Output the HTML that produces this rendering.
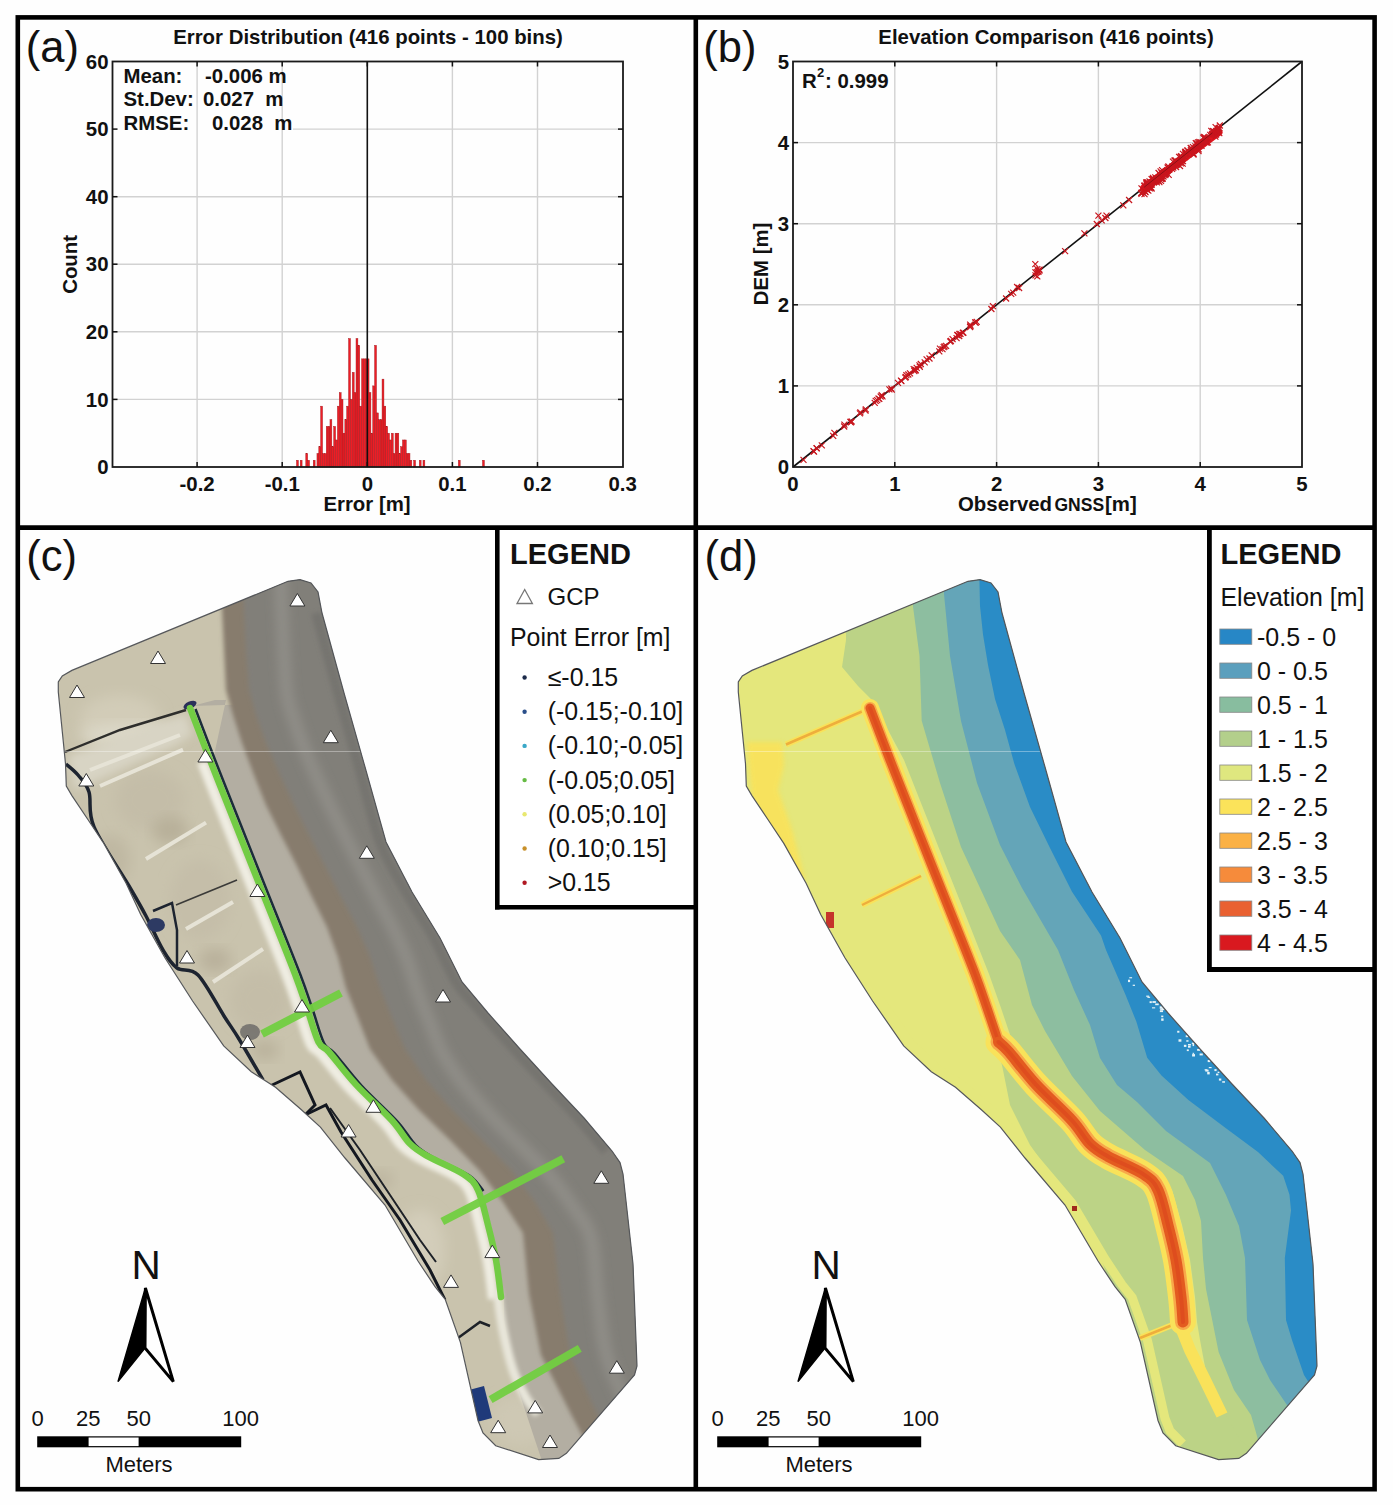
<!DOCTYPE html>
<html><head><meta charset="utf-8"><title>Figure</title>
<style>
html,body{margin:0;padding:0;background:#fff;}
body{width:1393px;height:1505px;overflow:hidden;}
svg{display:block;font-family:"Liberation Sans", sans-serif;}
</style></head>
<body>
<svg width="1393" height="1505" viewBox="0 0 1393 1505">
<rect width="1393" height="1505" fill="#fefefe"/>
<line x1="197.1" y1="61.5" x2="197.1" y2="467.0" stroke="#d2d2d2" stroke-width="1.4"/>
<line x1="282.2" y1="61.5" x2="282.2" y2="467.0" stroke="#d2d2d2" stroke-width="1.4"/>
<line x1="452.4" y1="61.5" x2="452.4" y2="467.0" stroke="#d2d2d2" stroke-width="1.4"/>
<line x1="537.5" y1="61.5" x2="537.5" y2="467.0" stroke="#d2d2d2" stroke-width="1.4"/>
<line x1="112.5" y1="399.4" x2="623.0" y2="399.4" stroke="#d2d2d2" stroke-width="1.4"/>
<line x1="112.5" y1="331.8" x2="623.0" y2="331.8" stroke="#d2d2d2" stroke-width="1.4"/>
<line x1="112.5" y1="264.2" x2="623.0" y2="264.2" stroke="#d2d2d2" stroke-width="1.4"/>
<line x1="112.5" y1="196.7" x2="623.0" y2="196.7" stroke="#d2d2d2" stroke-width="1.4"/>
<line x1="293" y1="129.1" x2="623.0" y2="129.1" stroke="#d2d2d2" stroke-width="1.4"/>
<rect x="296.50" y="460.24" width="1.86" height="6.76" fill="#ee1d25" stroke="#a3181d" stroke-width="0.45"/>
<rect x="300.22" y="460.24" width="1.86" height="6.76" fill="#ee1d25" stroke="#a3181d" stroke-width="0.45"/>
<rect x="305.80" y="453.48" width="1.86" height="13.52" fill="#ee1d25" stroke="#a3181d" stroke-width="0.45"/>
<rect x="307.66" y="460.24" width="1.86" height="6.76" fill="#ee1d25" stroke="#a3181d" stroke-width="0.45"/>
<rect x="313.24" y="460.24" width="1.86" height="6.76" fill="#ee1d25" stroke="#a3181d" stroke-width="0.45"/>
<rect x="316.96" y="453.48" width="1.86" height="13.52" fill="#ee1d25" stroke="#a3181d" stroke-width="0.45"/>
<rect x="318.82" y="446.73" width="1.86" height="20.27" fill="#ee1d25" stroke="#a3181d" stroke-width="0.45"/>
<rect x="320.68" y="406.18" width="1.86" height="60.82" fill="#ee1d25" stroke="#a3181d" stroke-width="0.45"/>
<rect x="322.54" y="453.48" width="1.86" height="13.52" fill="#ee1d25" stroke="#a3181d" stroke-width="0.45"/>
<rect x="324.40" y="453.48" width="1.86" height="13.52" fill="#ee1d25" stroke="#a3181d" stroke-width="0.45"/>
<rect x="326.26" y="426.45" width="1.86" height="40.55" fill="#ee1d25" stroke="#a3181d" stroke-width="0.45"/>
<rect x="328.12" y="426.45" width="1.86" height="40.55" fill="#ee1d25" stroke="#a3181d" stroke-width="0.45"/>
<rect x="329.98" y="419.69" width="1.86" height="47.31" fill="#ee1d25" stroke="#a3181d" stroke-width="0.45"/>
<rect x="331.84" y="446.73" width="1.86" height="20.27" fill="#ee1d25" stroke="#a3181d" stroke-width="0.45"/>
<rect x="333.70" y="426.45" width="1.86" height="40.55" fill="#ee1d25" stroke="#a3181d" stroke-width="0.45"/>
<rect x="335.56" y="439.97" width="1.86" height="27.03" fill="#ee1d25" stroke="#a3181d" stroke-width="0.45"/>
<rect x="337.42" y="406.18" width="1.86" height="60.82" fill="#ee1d25" stroke="#a3181d" stroke-width="0.45"/>
<rect x="339.28" y="392.66" width="1.86" height="74.34" fill="#ee1d25" stroke="#a3181d" stroke-width="0.45"/>
<rect x="341.14" y="399.42" width="1.86" height="67.58" fill="#ee1d25" stroke="#a3181d" stroke-width="0.45"/>
<rect x="343.00" y="433.21" width="1.86" height="33.79" fill="#ee1d25" stroke="#a3181d" stroke-width="0.45"/>
<rect x="344.86" y="419.69" width="1.86" height="47.31" fill="#ee1d25" stroke="#a3181d" stroke-width="0.45"/>
<rect x="346.72" y="406.18" width="1.86" height="60.82" fill="#ee1d25" stroke="#a3181d" stroke-width="0.45"/>
<rect x="348.58" y="338.59" width="1.86" height="128.41" fill="#ee1d25" stroke="#a3181d" stroke-width="0.45"/>
<rect x="350.44" y="399.42" width="1.86" height="67.58" fill="#ee1d25" stroke="#a3181d" stroke-width="0.45"/>
<rect x="352.30" y="372.38" width="1.86" height="94.62" fill="#ee1d25" stroke="#a3181d" stroke-width="0.45"/>
<rect x="354.16" y="392.66" width="1.86" height="74.34" fill="#ee1d25" stroke="#a3181d" stroke-width="0.45"/>
<rect x="356.02" y="338.59" width="1.86" height="128.41" fill="#ee1d25" stroke="#a3181d" stroke-width="0.45"/>
<rect x="357.88" y="345.35" width="1.86" height="121.65" fill="#ee1d25" stroke="#a3181d" stroke-width="0.45"/>
<rect x="359.74" y="406.18" width="1.86" height="60.82" fill="#ee1d25" stroke="#a3181d" stroke-width="0.45"/>
<rect x="361.60" y="358.87" width="1.86" height="108.13" fill="#ee1d25" stroke="#a3181d" stroke-width="0.45"/>
<rect x="363.46" y="358.87" width="1.86" height="108.13" fill="#ee1d25" stroke="#a3181d" stroke-width="0.45"/>
<rect x="365.32" y="358.87" width="1.86" height="108.13" fill="#ee1d25" stroke="#a3181d" stroke-width="0.45"/>
<rect x="367.18" y="358.87" width="1.86" height="108.13" fill="#ee1d25" stroke="#a3181d" stroke-width="0.45"/>
<rect x="369.04" y="392.66" width="1.86" height="74.34" fill="#ee1d25" stroke="#a3181d" stroke-width="0.45"/>
<rect x="370.90" y="433.21" width="1.86" height="33.79" fill="#ee1d25" stroke="#a3181d" stroke-width="0.45"/>
<rect x="372.76" y="385.90" width="1.86" height="81.10" fill="#ee1d25" stroke="#a3181d" stroke-width="0.45"/>
<rect x="374.62" y="345.35" width="1.86" height="121.65" fill="#ee1d25" stroke="#a3181d" stroke-width="0.45"/>
<rect x="376.48" y="412.93" width="1.86" height="54.07" fill="#ee1d25" stroke="#a3181d" stroke-width="0.45"/>
<rect x="378.34" y="419.69" width="1.86" height="47.31" fill="#ee1d25" stroke="#a3181d" stroke-width="0.45"/>
<rect x="380.20" y="419.69" width="1.86" height="47.31" fill="#ee1d25" stroke="#a3181d" stroke-width="0.45"/>
<rect x="382.06" y="379.14" width="1.86" height="87.86" fill="#ee1d25" stroke="#a3181d" stroke-width="0.45"/>
<rect x="383.92" y="406.18" width="1.86" height="60.82" fill="#ee1d25" stroke="#a3181d" stroke-width="0.45"/>
<rect x="385.78" y="426.45" width="1.86" height="40.55" fill="#ee1d25" stroke="#a3181d" stroke-width="0.45"/>
<rect x="387.64" y="433.21" width="1.86" height="33.79" fill="#ee1d25" stroke="#a3181d" stroke-width="0.45"/>
<rect x="389.50" y="439.97" width="1.86" height="27.03" fill="#ee1d25" stroke="#a3181d" stroke-width="0.45"/>
<rect x="391.36" y="433.21" width="1.86" height="33.79" fill="#ee1d25" stroke="#a3181d" stroke-width="0.45"/>
<rect x="393.22" y="453.48" width="1.86" height="13.52" fill="#ee1d25" stroke="#a3181d" stroke-width="0.45"/>
<rect x="395.08" y="433.21" width="1.86" height="33.79" fill="#ee1d25" stroke="#a3181d" stroke-width="0.45"/>
<rect x="396.94" y="433.21" width="1.86" height="33.79" fill="#ee1d25" stroke="#a3181d" stroke-width="0.45"/>
<rect x="398.80" y="453.48" width="1.86" height="13.52" fill="#ee1d25" stroke="#a3181d" stroke-width="0.45"/>
<rect x="400.66" y="446.73" width="1.86" height="20.27" fill="#ee1d25" stroke="#a3181d" stroke-width="0.45"/>
<rect x="402.52" y="439.97" width="1.86" height="27.03" fill="#ee1d25" stroke="#a3181d" stroke-width="0.45"/>
<rect x="404.38" y="439.97" width="1.86" height="27.03" fill="#ee1d25" stroke="#a3181d" stroke-width="0.45"/>
<rect x="406.24" y="453.48" width="1.86" height="13.52" fill="#ee1d25" stroke="#a3181d" stroke-width="0.45"/>
<rect x="408.10" y="453.48" width="1.86" height="13.52" fill="#ee1d25" stroke="#a3181d" stroke-width="0.45"/>
<rect x="409.96" y="460.24" width="1.86" height="6.76" fill="#ee1d25" stroke="#a3181d" stroke-width="0.45"/>
<rect x="413.68" y="460.24" width="1.86" height="6.76" fill="#ee1d25" stroke="#a3181d" stroke-width="0.45"/>
<rect x="419.26" y="460.24" width="1.86" height="6.76" fill="#ee1d25" stroke="#a3181d" stroke-width="0.45"/>
<rect x="422.98" y="460.24" width="1.86" height="6.76" fill="#ee1d25" stroke="#a3181d" stroke-width="0.45"/>
<rect x="458.32" y="460.24" width="1.86" height="6.76" fill="#ee1d25" stroke="#a3181d" stroke-width="0.45"/>
<rect x="482.50" y="460.24" width="1.86" height="6.76" fill="#ee1d25" stroke="#a3181d" stroke-width="0.45"/>
<line x1="367.3" y1="61.5" x2="367.3" y2="467.0" stroke="#111" stroke-width="1.6"/>
<rect x="112.5" y="61.5" width="510.5" height="405.5" fill="none" stroke="#1a1a1a" stroke-width="1.8"/>
<line x1="197.1" y1="467.0" x2="197.1" y2="462.0" stroke="#111" stroke-width="1.5"/>
<line x1="197.1" y1="61.5" x2="197.1" y2="66.5" stroke="#111" stroke-width="1.5"/>
<line x1="282.2" y1="467.0" x2="282.2" y2="462.0" stroke="#111" stroke-width="1.5"/>
<line x1="282.2" y1="61.5" x2="282.2" y2="66.5" stroke="#111" stroke-width="1.5"/>
<line x1="367.3" y1="467.0" x2="367.3" y2="462.0" stroke="#111" stroke-width="1.5"/>
<line x1="367.3" y1="61.5" x2="367.3" y2="66.5" stroke="#111" stroke-width="1.5"/>
<line x1="452.4" y1="467.0" x2="452.4" y2="462.0" stroke="#111" stroke-width="1.5"/>
<line x1="452.4" y1="61.5" x2="452.4" y2="66.5" stroke="#111" stroke-width="1.5"/>
<line x1="537.5" y1="467.0" x2="537.5" y2="462.0" stroke="#111" stroke-width="1.5"/>
<line x1="537.5" y1="61.5" x2="537.5" y2="66.5" stroke="#111" stroke-width="1.5"/>
<line x1="112.5" y1="399.4" x2="117.5" y2="399.4" stroke="#111" stroke-width="1.5"/>
<line x1="623.0" y1="399.4" x2="618.0" y2="399.4" stroke="#111" stroke-width="1.5"/>
<line x1="112.5" y1="331.8" x2="117.5" y2="331.8" stroke="#111" stroke-width="1.5"/>
<line x1="623.0" y1="331.8" x2="618.0" y2="331.8" stroke="#111" stroke-width="1.5"/>
<line x1="112.5" y1="264.2" x2="117.5" y2="264.2" stroke="#111" stroke-width="1.5"/>
<line x1="623.0" y1="264.2" x2="618.0" y2="264.2" stroke="#111" stroke-width="1.5"/>
<line x1="112.5" y1="196.7" x2="117.5" y2="196.7" stroke="#111" stroke-width="1.5"/>
<line x1="623.0" y1="196.7" x2="618.0" y2="196.7" stroke="#111" stroke-width="1.5"/>
<line x1="112.5" y1="129.1" x2="117.5" y2="129.1" stroke="#111" stroke-width="1.5"/>
<line x1="623.0" y1="129.1" x2="618.0" y2="129.1" stroke="#111" stroke-width="1.5"/>
<text x="108.5" y="474.2" font-size="20.4" font-weight="bold" text-anchor="end" fill="#111" >0</text>
<text x="108.5" y="406.6166666666667" font-size="20.4" font-weight="bold" text-anchor="end" fill="#111" >10</text>
<text x="108.5" y="339.03333333333336" font-size="20.4" font-weight="bold" text-anchor="end" fill="#111" >20</text>
<text x="108.5" y="271.45" font-size="20.4" font-weight="bold" text-anchor="end" fill="#111" >30</text>
<text x="108.5" y="203.86666666666667" font-size="20.4" font-weight="bold" text-anchor="end" fill="#111" >40</text>
<text x="108.5" y="136.2833333333333" font-size="20.4" font-weight="bold" text-anchor="end" fill="#111" >50</text>
<text x="108.5" y="68.7" font-size="20.4" font-weight="bold" text-anchor="end" fill="#111" >60</text>
<text x="197.1" y="490.5" font-size="20.4" font-weight="bold" text-anchor="middle" fill="#111" >-0.2</text>
<text x="282.2" y="490.5" font-size="20.4" font-weight="bold" text-anchor="middle" fill="#111" >-0.1</text>
<text x="367.3" y="490.5" font-size="20.4" font-weight="bold" text-anchor="middle" fill="#111" >0</text>
<text x="452.4" y="490.5" font-size="20.4" font-weight="bold" text-anchor="middle" fill="#111" >0.1</text>
<text x="537.5" y="490.5" font-size="20.4" font-weight="bold" text-anchor="middle" fill="#111" >0.2</text>
<text x="622.6" y="490.5" font-size="20.4" font-weight="bold" text-anchor="middle" fill="#111" >0.3</text>
<text x="367" y="511" font-size="20.4" font-weight="bold" text-anchor="middle" fill="#111" >Error [m]</text>
<text x="0" y="0" font-size="20.4" font-weight="bold" text-anchor="middle" fill="#111" transform="translate(76.8,264.4) rotate(-90)">Count</text>
<text x="368" y="44" font-size="20.4" font-weight="bold" text-anchor="middle" fill="#111" >Error Distribution (416 points - 100 bins)</text>
<text x="123.5" y="82.5" font-size="20.4" font-weight="bold" text-anchor="start" fill="#111" >Mean:</text>
<text x="205" y="82.5" font-size="20.4" font-weight="bold" text-anchor="start" fill="#111" >-0.006 m</text>
<text x="123.5" y="106" font-size="20.4" font-weight="bold" text-anchor="start" fill="#111" >St.Dev:</text>
<text x="203" y="106" font-size="20.4" font-weight="bold" text-anchor="start" fill="#111" xml:space="preserve">0.027  m</text>
<text x="123.5" y="130" font-size="20.4" font-weight="bold" text-anchor="start" fill="#111" >RMSE:</text>
<text x="212" y="130" font-size="20.4" font-weight="bold" text-anchor="start" fill="#111" xml:space="preserve">0.028  m</text>
<text x="25.8" y="62" font-size="43.5" font-weight="normal" text-anchor="start" fill="#111" >(a)</text>
<line x1="894.8" y1="61.5" x2="894.8" y2="467.0" stroke="#d2d2d2" stroke-width="1.4"/>
<line x1="793.0" y1="385.9" x2="1302.0" y2="385.9" stroke="#d2d2d2" stroke-width="1.4"/>
<line x1="996.6" y1="61.5" x2="996.6" y2="467.0" stroke="#d2d2d2" stroke-width="1.4"/>
<line x1="793.0" y1="304.8" x2="1302.0" y2="304.8" stroke="#d2d2d2" stroke-width="1.4"/>
<line x1="1098.4" y1="61.5" x2="1098.4" y2="467.0" stroke="#d2d2d2" stroke-width="1.4"/>
<line x1="793.0" y1="223.7" x2="1302.0" y2="223.7" stroke="#d2d2d2" stroke-width="1.4"/>
<line x1="1200.2" y1="61.5" x2="1200.2" y2="467.0" stroke="#d2d2d2" stroke-width="1.4"/>
<line x1="793.0" y1="142.6" x2="1302.0" y2="142.6" stroke="#d2d2d2" stroke-width="1.4"/>
<line x1="793.0" y1="467.0" x2="1302.0" y2="61.5" stroke="#111" stroke-width="1.6"/>
<line x1="1144.2" y1="188.0" x2="1218.5" y2="132.1" stroke="#e0141c" stroke-width="8" stroke-linecap="round"/>
<path d="M800.5 456.8L806.5 462.8M800.5 462.8L806.5 456.8" stroke="#c8161e" stroke-width="1.2"/>
<path d="M811.0 448.7L817.0 454.7M811.0 454.7L817.0 448.7" stroke="#c8161e" stroke-width="1.2"/>
<path d="M810.5 448.1L816.5 454.1M810.5 454.1L816.5 448.1" stroke="#c8161e" stroke-width="1.2"/>
<path d="M813.7 445.1L819.7 451.1M813.7 451.1L819.7 445.1" stroke="#c8161e" stroke-width="1.2"/>
<path d="M813.6 445.4L819.6 451.4M813.6 451.4L819.6 445.4" stroke="#c8161e" stroke-width="1.2"/>
<path d="M818.8 442.4L824.8 448.4M818.8 448.4L824.8 442.4" stroke="#c8161e" stroke-width="1.2"/>
<path d="M831.4 429.9L837.4 435.9M831.4 435.9L837.4 429.9" stroke="#c8161e" stroke-width="1.2"/>
<path d="M830.2 432.9L836.2 438.9M830.2 438.9L836.2 432.9" stroke="#c8161e" stroke-width="1.2"/>
<path d="M841.4 421.6L847.4 427.6M841.4 427.6L847.4 421.6" stroke="#c8161e" stroke-width="1.2"/>
<path d="M841.2 423.5L847.2 429.5M841.2 429.5L847.2 423.5" stroke="#c8161e" stroke-width="1.2"/>
<path d="M847.9 419.3L853.9 425.3M847.9 425.3L853.9 419.3" stroke="#c8161e" stroke-width="1.2"/>
<path d="M847.4 418.9L853.4 424.9M847.4 424.9L853.4 418.9" stroke="#c8161e" stroke-width="1.2"/>
<path d="M848.6 418.5L854.6 424.5M848.6 424.5L854.6 418.5" stroke="#c8161e" stroke-width="1.2"/>
<path d="M857.4 409.3L863.4 415.3M857.4 415.3L863.4 409.3" stroke="#c8161e" stroke-width="1.2"/>
<path d="M856.9 410.4L862.9 416.4M856.9 416.4L862.9 410.4" stroke="#c8161e" stroke-width="1.2"/>
<path d="M862.8 406.4L868.8 412.4M862.8 412.4L868.8 406.4" stroke="#c8161e" stroke-width="1.2"/>
<path d="M862.5 407.7L868.5 413.7M862.5 413.7L868.5 407.7" stroke="#c8161e" stroke-width="1.2"/>
<path d="M871.7 399.9L877.7 405.9M871.7 405.9L877.7 399.9" stroke="#c8161e" stroke-width="1.2"/>
<path d="M874.2 397.1L880.2 403.1M874.2 403.1L880.2 397.1" stroke="#c8161e" stroke-width="1.2"/>
<path d="M872.7 397.8L878.7 403.8M872.7 403.8L878.7 397.8" stroke="#c8161e" stroke-width="1.2"/>
<path d="M876.3 395.9L882.3 401.9M876.3 401.9L882.3 395.9" stroke="#c8161e" stroke-width="1.2"/>
<path d="M877.7 393.5L883.7 399.5M877.7 399.5L883.7 393.5" stroke="#c8161e" stroke-width="1.2"/>
<path d="M875.5 395.7L881.5 401.7M875.5 401.7L881.5 395.7" stroke="#c8161e" stroke-width="1.2"/>
<path d="M878.7 392.1L884.7 398.1M878.7 398.1L884.7 392.1" stroke="#c8161e" stroke-width="1.2"/>
<path d="M879.5 393.4L885.5 399.4M879.5 399.4L885.5 393.4" stroke="#c8161e" stroke-width="1.2"/>
<path d="M888.7 386.6L894.7 392.6M888.7 392.6L894.7 386.6" stroke="#c8161e" stroke-width="1.2"/>
<path d="M886.4 386.4L892.4 392.4M886.4 392.4L892.4 386.4" stroke="#c8161e" stroke-width="1.2"/>
<path d="M888.3 385.7L894.3 391.7M888.3 391.7L894.3 385.7" stroke="#c8161e" stroke-width="1.2"/>
<path d="M895.0 379.8L901.0 385.8M895.0 385.8L901.0 379.8" stroke="#c8161e" stroke-width="1.2"/>
<path d="M898.0 377.7L904.0 383.7M898.0 383.7L904.0 377.7" stroke="#c8161e" stroke-width="1.2"/>
<path d="M898.4 378.2L904.4 384.2M898.4 384.2L904.4 378.2" stroke="#c8161e" stroke-width="1.2"/>
<path d="M902.8 373.9L908.8 379.9M902.8 379.9L908.8 373.9" stroke="#c8161e" stroke-width="1.2"/>
<path d="M902.3 374.7L908.3 380.7M902.3 380.7L908.3 374.7" stroke="#c8161e" stroke-width="1.2"/>
<path d="M903.4 372.2L909.4 378.2M903.4 378.2L909.4 372.2" stroke="#c8161e" stroke-width="1.2"/>
<path d="M907.0 370.3L913.0 376.3M907.0 376.3L913.0 370.3" stroke="#c8161e" stroke-width="1.2"/>
<path d="M905.3 371.5L911.3 377.5M905.3 377.5L911.3 371.5" stroke="#c8161e" stroke-width="1.2"/>
<path d="M910.7 366.2L916.7 372.2M910.7 372.2L916.7 366.2" stroke="#c8161e" stroke-width="1.2"/>
<path d="M911.4 368.0L917.4 374.0M911.4 374.0L917.4 368.0" stroke="#c8161e" stroke-width="1.2"/>
<path d="M913.7 364.9L919.7 370.9M913.7 370.9L919.7 364.9" stroke="#c8161e" stroke-width="1.2"/>
<path d="M912.3 366.7L918.3 372.7M912.3 372.7L918.3 366.7" stroke="#c8161e" stroke-width="1.2"/>
<path d="M912.8 367.4L918.8 373.4M912.8 373.4L918.8 367.4" stroke="#c8161e" stroke-width="1.2"/>
<path d="M916.5 362.4L922.5 368.4M916.5 368.4L922.5 362.4" stroke="#c8161e" stroke-width="1.2"/>
<path d="M916.8 363.8L922.8 369.8M916.8 369.8L922.8 363.8" stroke="#c8161e" stroke-width="1.2"/>
<path d="M917.8 361.0L923.8 367.0M917.8 367.0L923.8 361.0" stroke="#c8161e" stroke-width="1.2"/>
<path d="M921.7 359.3L927.7 365.3M921.7 365.3L927.7 359.3" stroke="#c8161e" stroke-width="1.2"/>
<path d="M923.6 356.4L929.6 362.4M923.6 362.4L929.6 356.4" stroke="#c8161e" stroke-width="1.2"/>
<path d="M928.7 352.3L934.7 358.3M928.7 358.3L934.7 352.3" stroke="#c8161e" stroke-width="1.2"/>
<path d="M926.5 355.5L932.5 361.5M926.5 361.5L932.5 355.5" stroke="#c8161e" stroke-width="1.2"/>
<path d="M937.0 345.6L943.0 351.6M937.0 351.6L943.0 345.6" stroke="#c8161e" stroke-width="1.2"/>
<path d="M939.5 346.1L945.5 352.1M939.5 352.1L945.5 346.1" stroke="#c8161e" stroke-width="1.2"/>
<path d="M936.3 348.3L942.3 354.3M936.3 354.3L942.3 348.3" stroke="#c8161e" stroke-width="1.2"/>
<path d="M941.6 343.3L947.6 349.3M941.6 349.3L947.6 343.3" stroke="#c8161e" stroke-width="1.2"/>
<path d="M943.1 342.8L949.1 348.8M943.1 348.8L949.1 342.8" stroke="#c8161e" stroke-width="1.2"/>
<path d="M940.7 344.2L946.7 350.2M940.7 350.2L946.7 344.2" stroke="#c8161e" stroke-width="1.2"/>
<path d="M947.3 338.5L953.3 344.5M947.3 344.5L953.3 338.5" stroke="#c8161e" stroke-width="1.2"/>
<path d="M949.6 336.2L955.6 342.2M949.6 342.2L955.6 336.2" stroke="#c8161e" stroke-width="1.2"/>
<path d="M947.9 337.9L953.9 343.9M947.9 343.9L953.9 337.9" stroke="#c8161e" stroke-width="1.2"/>
<path d="M953.6 335.1L959.6 341.1M953.6 341.1L959.6 335.1" stroke="#c8161e" stroke-width="1.2"/>
<path d="M954.5 332.0L960.5 338.0M954.5 338.0L960.5 332.0" stroke="#c8161e" stroke-width="1.2"/>
<path d="M954.4 332.1L960.4 338.1M954.4 338.1L960.4 332.1" stroke="#c8161e" stroke-width="1.2"/>
<path d="M957.5 330.9L963.5 336.9M957.5 336.9L963.5 330.9" stroke="#c8161e" stroke-width="1.2"/>
<path d="M956.4 331.0L962.4 337.0M956.4 337.0L962.4 331.0" stroke="#c8161e" stroke-width="1.2"/>
<path d="M956.2 333.0L962.2 339.0M956.2 339.0L962.2 333.0" stroke="#c8161e" stroke-width="1.2"/>
<path d="M959.8 329.8L965.8 335.8M959.8 335.8L965.8 329.8" stroke="#c8161e" stroke-width="1.2"/>
<path d="M960.4 329.7L966.4 335.7M960.4 335.7L966.4 329.7" stroke="#c8161e" stroke-width="1.2"/>
<path d="M967.1 324.0L973.1 330.0M967.1 330.0L973.1 324.0" stroke="#c8161e" stroke-width="1.2"/>
<path d="M967.5 323.0L973.5 329.0M967.5 329.0L973.5 323.0" stroke="#c8161e" stroke-width="1.2"/>
<path d="M967.2 321.6L973.2 327.6M967.2 327.6L973.2 321.6" stroke="#c8161e" stroke-width="1.2"/>
<path d="M973.7 318.8L979.7 324.8M973.7 324.8L979.7 318.8" stroke="#c8161e" stroke-width="1.2"/>
<path d="M972.2 319.3L978.2 325.3M972.2 325.3L978.2 319.3" stroke="#c8161e" stroke-width="1.2"/>
<path d="M972.7 319.7L978.7 325.7M972.7 325.7L978.7 319.7" stroke="#c8161e" stroke-width="1.2"/>
<path d="M989.9 303.1L995.9 309.1M989.9 309.1L995.9 303.1" stroke="#c8161e" stroke-width="1.2"/>
<path d="M988.4 306.0L994.4 312.0M988.4 312.0L994.4 306.0" stroke="#c8161e" stroke-width="1.2"/>
<path d="M1003.1 295.5L1009.1 301.5M1003.1 301.5L1009.1 295.5" stroke="#c8161e" stroke-width="1.2"/>
<path d="M1008.2 290.9L1014.2 296.9M1008.2 296.9L1014.2 290.9" stroke="#c8161e" stroke-width="1.2"/>
<path d="M1010.2 289.7L1016.2 295.7M1010.2 295.7L1016.2 289.7" stroke="#c8161e" stroke-width="1.2"/>
<path d="M1014.1 284.0L1020.1 290.0M1014.1 290.0L1020.1 284.0" stroke="#c8161e" stroke-width="1.2"/>
<path d="M1016.1 285.0L1022.1 291.0M1016.1 291.0L1022.1 285.0" stroke="#c8161e" stroke-width="1.2"/>
<path d="M1032.5 272.4L1038.5 278.4M1032.5 278.4L1038.5 272.4" stroke="#c8161e" stroke-width="1.2"/>
<path d="M1032.4 269.3L1038.4 275.3M1032.4 275.3L1038.4 269.3" stroke="#c8161e" stroke-width="1.2"/>
<path d="M1033.8 269.2L1039.8 275.2M1033.8 275.2L1039.8 269.2" stroke="#c8161e" stroke-width="1.2"/>
<path d="M1035.4 268.9L1041.4 274.9M1035.4 274.9L1041.4 268.9" stroke="#c8161e" stroke-width="1.2"/>
<path d="M1035.0 267.9L1041.0 273.9M1035.0 273.9L1041.0 267.9" stroke="#c8161e" stroke-width="1.2"/>
<path d="M1036.5 266.7L1042.5 272.7M1036.5 272.7L1042.5 266.7" stroke="#c8161e" stroke-width="1.2"/>
<path d="M1062.1 248.1L1068.1 254.1M1062.1 254.1L1068.1 248.1" stroke="#c8161e" stroke-width="1.2"/>
<path d="M1081.4 230.3L1087.4 236.3M1081.4 236.3L1087.4 230.3" stroke="#c8161e" stroke-width="1.2"/>
<path d="M1093.8 221.0L1099.8 227.0M1093.8 227.0L1099.8 221.0" stroke="#c8161e" stroke-width="1.2"/>
<path d="M1098.7 217.3L1104.7 223.3M1098.7 223.3L1104.7 217.3" stroke="#c8161e" stroke-width="1.2"/>
<path d="M1102.4 215.0L1108.4 221.0M1102.4 221.0L1108.4 215.0" stroke="#c8161e" stroke-width="1.2"/>
<path d="M1120.3 202.4L1126.3 208.4M1120.3 208.4L1126.3 202.4" stroke="#c8161e" stroke-width="1.2"/>
<path d="M1126.1 197.0L1132.1 203.0M1126.1 203.0L1132.1 197.0" stroke="#c8161e" stroke-width="1.2"/>
<path d="M1032.3 261.2L1038.3 267.2M1032.3 267.2L1038.3 261.2" stroke="#c8161e" stroke-width="1.2"/>
<path d="M1034.3 273.4L1040.3 279.4M1034.3 279.4L1040.3 273.4" stroke="#c8161e" stroke-width="1.2"/>
<path d="M1095.4 212.6L1101.4 218.6M1095.4 218.6L1101.4 212.6" stroke="#c8161e" stroke-width="1.2"/>
<path d="M1103.5 212.6L1109.5 218.6M1103.5 218.6L1109.5 212.6" stroke="#c8161e" stroke-width="1.2"/>
<path d="M1036.4 267.7L1042.4 273.7M1036.4 273.7L1042.4 267.7" stroke="#c8161e" stroke-width="1.2"/>
<path d="M1034.3 266.1L1040.3 272.1M1034.3 272.1L1040.3 266.1" stroke="#c8161e" stroke-width="1.2"/>
<path d="M1158.7 170.2L1164.7 176.2M1158.7 176.2L1164.7 170.2" stroke="#c8161e" stroke-width="1.2"/>
<path d="M1214.1 128.7L1220.1 134.7M1214.1 134.7L1220.1 128.7" stroke="#c8161e" stroke-width="1.2"/>
<path d="M1212.6 124.2L1218.6 130.2M1212.6 130.2L1218.6 124.2" stroke="#c8161e" stroke-width="1.2"/>
<path d="M1214.0 129.7L1220.0 135.7M1214.0 135.7L1220.0 129.7" stroke="#c8161e" stroke-width="1.2"/>
<path d="M1155.7 177.6L1161.7 183.6M1155.7 183.6L1161.7 177.6" stroke="#c8161e" stroke-width="1.2"/>
<path d="M1153.8 179.3L1159.8 185.3M1153.8 185.3L1159.8 179.3" stroke="#c8161e" stroke-width="1.2"/>
<path d="M1187.7 145.0L1193.7 151.0M1187.7 151.0L1193.7 145.0" stroke="#c8161e" stroke-width="1.2"/>
<path d="M1204.9 135.7L1210.9 141.7M1204.9 141.7L1210.9 135.7" stroke="#c8161e" stroke-width="1.2"/>
<path d="M1190.0 144.2L1196.0 150.2M1190.0 150.2L1196.0 144.2" stroke="#c8161e" stroke-width="1.2"/>
<path d="M1144.9 181.6L1150.9 187.6M1144.9 187.6L1150.9 181.6" stroke="#c8161e" stroke-width="1.2"/>
<path d="M1210.4 128.1L1216.4 134.1M1210.4 134.1L1216.4 128.1" stroke="#c8161e" stroke-width="1.2"/>
<path d="M1197.7 141.4L1203.7 147.4M1197.7 147.4L1203.7 141.4" stroke="#c8161e" stroke-width="1.2"/>
<path d="M1152.3 174.3L1158.3 180.3M1152.3 180.3L1158.3 174.3" stroke="#c8161e" stroke-width="1.2"/>
<path d="M1164.6 164.5L1170.6 170.5M1164.6 170.5L1170.6 164.5" stroke="#c8161e" stroke-width="1.2"/>
<path d="M1215.3 128.3L1221.3 134.3M1215.3 134.3L1221.3 128.3" stroke="#c8161e" stroke-width="1.2"/>
<path d="M1170.0 158.6L1176.0 164.6M1170.0 164.6L1176.0 158.6" stroke="#c8161e" stroke-width="1.2"/>
<path d="M1195.7 146.3L1201.7 152.3M1195.7 152.3L1201.7 146.3" stroke="#c8161e" stroke-width="1.2"/>
<path d="M1148.2 184.3L1154.2 190.3M1148.2 190.3L1154.2 184.3" stroke="#c8161e" stroke-width="1.2"/>
<path d="M1210.0 128.2L1216.0 134.2M1210.0 134.2L1216.0 128.2" stroke="#c8161e" stroke-width="1.2"/>
<path d="M1149.8 176.0L1155.8 182.0M1149.8 182.0L1155.8 176.0" stroke="#c8161e" stroke-width="1.2"/>
<path d="M1216.0 125.0L1222.0 131.0M1216.0 131.0L1222.0 125.0" stroke="#c8161e" stroke-width="1.2"/>
<path d="M1166.0 166.0L1172.0 172.0M1166.0 172.0L1172.0 166.0" stroke="#c8161e" stroke-width="1.2"/>
<path d="M1148.6 185.5L1154.6 191.5M1148.6 191.5L1154.6 185.5" stroke="#c8161e" stroke-width="1.2"/>
<path d="M1215.2 125.7L1221.2 131.7M1215.2 131.7L1221.2 125.7" stroke="#c8161e" stroke-width="1.2"/>
<path d="M1180.0 150.8L1186.0 156.8M1180.0 156.8L1186.0 150.8" stroke="#c8161e" stroke-width="1.2"/>
<path d="M1172.6 157.3L1178.6 163.3M1172.6 163.3L1178.6 157.3" stroke="#c8161e" stroke-width="1.2"/>
<path d="M1203.8 139.5L1209.8 145.5M1203.8 145.5L1209.8 139.5" stroke="#c8161e" stroke-width="1.2"/>
<path d="M1158.2 174.9L1164.2 180.9M1158.2 180.9L1164.2 174.9" stroke="#c8161e" stroke-width="1.2"/>
<path d="M1157.3 172.5L1163.3 178.5M1157.3 178.5L1163.3 172.5" stroke="#c8161e" stroke-width="1.2"/>
<path d="M1158.8 173.1L1164.8 179.1M1158.8 179.1L1164.8 173.1" stroke="#c8161e" stroke-width="1.2"/>
<path d="M1148.6 176.1L1154.6 182.1M1148.6 182.1L1154.6 176.1" stroke="#c8161e" stroke-width="1.2"/>
<path d="M1166.2 166.7L1172.2 172.7M1166.2 172.7L1172.2 166.7" stroke="#c8161e" stroke-width="1.2"/>
<path d="M1184.5 147.5L1190.5 153.5M1184.5 153.5L1190.5 147.5" stroke="#c8161e" stroke-width="1.2"/>
<path d="M1171.6 157.7L1177.6 163.7M1171.6 163.7L1177.6 157.7" stroke="#c8161e" stroke-width="1.2"/>
<path d="M1178.0 156.6L1184.0 162.6M1178.0 162.6L1184.0 156.6" stroke="#c8161e" stroke-width="1.2"/>
<path d="M1179.7 160.6L1185.7 166.6M1179.7 166.6L1185.7 160.6" stroke="#c8161e" stroke-width="1.2"/>
<path d="M1173.1 164.2L1179.1 170.2M1173.1 170.2L1179.1 164.2" stroke="#c8161e" stroke-width="1.2"/>
<path d="M1138.5 185.3L1144.5 191.3M1138.5 191.3L1144.5 185.3" stroke="#c8161e" stroke-width="1.2"/>
<path d="M1151.8 178.0L1157.8 184.0M1151.8 184.0L1157.8 178.0" stroke="#c8161e" stroke-width="1.2"/>
<path d="M1195.7 142.2L1201.7 148.2M1195.7 148.2L1201.7 142.2" stroke="#c8161e" stroke-width="1.2"/>
<path d="M1164.0 167.9L1170.0 173.9M1164.0 173.9L1170.0 167.9" stroke="#c8161e" stroke-width="1.2"/>
<path d="M1182.3 150.5L1188.3 156.5M1182.3 156.5L1188.3 150.5" stroke="#c8161e" stroke-width="1.2"/>
<path d="M1146.6 181.3L1152.6 187.3M1146.6 187.3L1152.6 181.3" stroke="#c8161e" stroke-width="1.2"/>
<path d="M1157.9 175.3L1163.9 181.3M1157.9 181.3L1163.9 175.3" stroke="#c8161e" stroke-width="1.2"/>
<path d="M1199.5 139.7L1205.5 145.7M1199.5 145.7L1205.5 139.7" stroke="#c8161e" stroke-width="1.2"/>
<path d="M1182.8 150.4L1188.8 156.4M1182.8 156.4L1188.8 150.4" stroke="#c8161e" stroke-width="1.2"/>
<path d="M1210.6 131.5L1216.6 137.5M1210.6 137.5L1216.6 131.5" stroke="#c8161e" stroke-width="1.2"/>
<path d="M1186.8 149.9L1192.8 155.9M1186.8 155.9L1192.8 149.9" stroke="#c8161e" stroke-width="1.2"/>
<path d="M1178.8 154.2L1184.8 160.2M1178.8 160.2L1184.8 154.2" stroke="#c8161e" stroke-width="1.2"/>
<path d="M1174.1 159.7L1180.1 165.7M1174.1 165.7L1180.1 159.7" stroke="#c8161e" stroke-width="1.2"/>
<path d="M1176.1 153.8L1182.1 159.8M1176.1 159.8L1182.1 153.8" stroke="#c8161e" stroke-width="1.2"/>
<path d="M1193.7 140.5L1199.7 146.5M1193.7 146.5L1199.7 140.5" stroke="#c8161e" stroke-width="1.2"/>
<path d="M1213.0 131.6L1219.0 137.6M1213.0 137.6L1219.0 131.6" stroke="#c8161e" stroke-width="1.2"/>
<path d="M1182.6 148.6L1188.6 154.6M1182.6 154.6L1188.6 148.6" stroke="#c8161e" stroke-width="1.2"/>
<path d="M1204.9 139.4L1210.9 145.4M1204.9 145.4L1210.9 139.4" stroke="#c8161e" stroke-width="1.2"/>
<path d="M1147.8 181.6L1153.8 187.6M1147.8 187.6L1153.8 181.6" stroke="#c8161e" stroke-width="1.2"/>
<path d="M1143.9 186.8L1149.9 192.8M1143.9 192.8L1149.9 186.8" stroke="#c8161e" stroke-width="1.2"/>
<path d="M1144.0 182.3L1150.0 188.3M1144.0 188.3L1150.0 182.3" stroke="#c8161e" stroke-width="1.2"/>
<path d="M1200.4 134.9L1206.4 140.9M1200.4 140.9L1206.4 134.9" stroke="#c8161e" stroke-width="1.2"/>
<path d="M1150.4 176.6L1156.4 182.6M1150.4 182.6L1156.4 176.6" stroke="#c8161e" stroke-width="1.2"/>
<path d="M1190.6 150.7L1196.6 156.7M1190.6 156.7L1196.6 150.7" stroke="#c8161e" stroke-width="1.2"/>
<path d="M1208.3 127.9L1214.3 133.9M1208.3 133.9L1214.3 127.9" stroke="#c8161e" stroke-width="1.2"/>
<path d="M1155.6 170.0L1161.6 176.0M1155.6 176.0L1161.6 170.0" stroke="#c8161e" stroke-width="1.2"/>
<path d="M1169.8 163.6L1175.8 169.6M1169.8 169.6L1175.8 163.6" stroke="#c8161e" stroke-width="1.2"/>
<path d="M1216.8 122.5L1222.8 128.5M1216.8 128.5L1222.8 122.5" stroke="#c8161e" stroke-width="1.2"/>
<path d="M1151.0 179.2L1157.0 185.2M1151.0 185.2L1157.0 179.2" stroke="#c8161e" stroke-width="1.2"/>
<path d="M1179.1 157.7L1185.1 163.7M1179.1 163.7L1185.1 157.7" stroke="#c8161e" stroke-width="1.2"/>
<path d="M1153.7 178.2L1159.7 184.2M1153.7 184.2L1159.7 178.2" stroke="#c8161e" stroke-width="1.2"/>
<path d="M1195.5 148.0L1201.5 154.0M1195.5 154.0L1201.5 148.0" stroke="#c8161e" stroke-width="1.2"/>
<path d="M1182.1 154.2L1188.1 160.2M1182.1 160.2L1188.1 154.2" stroke="#c8161e" stroke-width="1.2"/>
<path d="M1139.6 189.3L1145.6 195.3M1139.6 195.3L1145.6 189.3" stroke="#c8161e" stroke-width="1.2"/>
<path d="M1187.7 149.1L1193.7 155.1M1187.7 155.1L1193.7 149.1" stroke="#c8161e" stroke-width="1.2"/>
<path d="M1143.3 179.5L1149.3 185.5M1143.3 185.5L1149.3 179.5" stroke="#c8161e" stroke-width="1.2"/>
<path d="M1200.8 133.8L1206.8 139.8M1200.8 139.8L1206.8 133.8" stroke="#c8161e" stroke-width="1.2"/>
<path d="M1146.5 184.5L1152.5 190.5M1146.5 190.5L1152.5 184.5" stroke="#c8161e" stroke-width="1.2"/>
<path d="M1141.3 183.2L1147.3 189.2M1141.3 189.2L1147.3 183.2" stroke="#c8161e" stroke-width="1.2"/>
<path d="M1159.6 175.5L1165.6 181.5M1159.6 181.5L1165.6 175.5" stroke="#c8161e" stroke-width="1.2"/>
<path d="M1171.7 157.6L1177.7 163.6M1171.7 163.6L1177.7 157.6" stroke="#c8161e" stroke-width="1.2"/>
<path d="M1203.2 139.4L1209.2 145.4M1203.2 145.4L1209.2 139.4" stroke="#c8161e" stroke-width="1.2"/>
<path d="M1150.0 174.8L1156.0 180.8M1150.0 180.8L1156.0 174.8" stroke="#c8161e" stroke-width="1.2"/>
<path d="M1183.5 150.5L1189.5 156.5M1183.5 156.5L1189.5 150.5" stroke="#c8161e" stroke-width="1.2"/>
<path d="M1145.3 187.7L1151.3 193.7M1145.3 193.7L1151.3 187.7" stroke="#c8161e" stroke-width="1.2"/>
<path d="M1192.8 145.9L1198.8 151.9M1192.8 151.9L1198.8 145.9" stroke="#c8161e" stroke-width="1.2"/>
<path d="M1143.9 179.5L1149.9 185.5M1143.9 185.5L1149.9 179.5" stroke="#c8161e" stroke-width="1.2"/>
<path d="M1188.5 145.4L1194.5 151.4M1188.5 151.4L1194.5 145.4" stroke="#c8161e" stroke-width="1.2"/>
<path d="M1144.8 179.6L1150.8 185.6M1144.8 185.6L1150.8 179.6" stroke="#c8161e" stroke-width="1.2"/>
<path d="M1143.4 180.6L1149.4 186.6M1143.4 186.6L1149.4 180.6" stroke="#c8161e" stroke-width="1.2"/>
<path d="M1174.2 161.7L1180.2 167.7M1174.2 167.7L1180.2 161.7" stroke="#c8161e" stroke-width="1.2"/>
<path d="M1182.1 149.2L1188.1 155.2M1182.1 155.2L1188.1 149.2" stroke="#c8161e" stroke-width="1.2"/>
<path d="M1159.4 175.6L1165.4 181.6M1159.4 181.6L1165.4 175.6" stroke="#c8161e" stroke-width="1.2"/>
<path d="M1180.0 158.1L1186.0 164.1M1180.0 164.1L1186.0 158.1" stroke="#c8161e" stroke-width="1.2"/>
<path d="M1146.8 185.3L1152.8 191.3M1146.8 191.3L1152.8 185.3" stroke="#c8161e" stroke-width="1.2"/>
<path d="M1142.2 188.6L1148.2 194.6M1142.2 194.6L1148.2 188.6" stroke="#c8161e" stroke-width="1.2"/>
<path d="M1162.9 171.0L1168.9 177.0M1162.9 177.0L1168.9 171.0" stroke="#c8161e" stroke-width="1.2"/>
<path d="M1198.5 142.8L1204.5 148.8M1198.5 148.8L1204.5 142.8" stroke="#c8161e" stroke-width="1.2"/>
<path d="M1177.9 160.4L1183.9 166.4M1177.9 166.4L1183.9 160.4" stroke="#c8161e" stroke-width="1.2"/>
<path d="M1165.7 171.8L1171.7 177.8M1165.7 177.8L1171.7 171.8" stroke="#c8161e" stroke-width="1.2"/>
<path d="M1158.0 177.9L1164.0 183.9M1158.0 183.9L1164.0 177.9" stroke="#c8161e" stroke-width="1.2"/>
<path d="M1196.4 141.8L1202.4 147.8M1196.4 147.8L1202.4 141.8" stroke="#c8161e" stroke-width="1.2"/>
<path d="M1153.2 176.9L1159.2 182.9M1153.2 182.9L1159.2 176.9" stroke="#c8161e" stroke-width="1.2"/>
<path d="M1212.4 133.7L1218.4 139.7M1212.4 139.7L1218.4 133.7" stroke="#c8161e" stroke-width="1.2"/>
<path d="M1203.2 137.6L1209.2 143.6M1203.2 143.6L1209.2 137.6" stroke="#c8161e" stroke-width="1.2"/>
<path d="M1177.5 153.8L1183.5 159.8M1177.5 159.8L1183.5 153.8" stroke="#c8161e" stroke-width="1.2"/>
<path d="M1169.4 163.7L1175.4 169.7M1169.4 169.7L1175.4 163.7" stroke="#c8161e" stroke-width="1.2"/>
<path d="M1192.8 140.1L1198.8 146.1M1192.8 146.1L1198.8 140.1" stroke="#c8161e" stroke-width="1.2"/>
<path d="M1165.4 163.5L1171.4 169.5M1165.4 169.5L1171.4 163.5" stroke="#c8161e" stroke-width="1.2"/>
<path d="M1194.3 142.5L1200.3 148.5M1194.3 148.5L1200.3 142.5" stroke="#c8161e" stroke-width="1.2"/>
<path d="M1170.3 164.7L1176.3 170.7M1170.3 170.7L1176.3 164.7" stroke="#c8161e" stroke-width="1.2"/>
<path d="M1142.5 189.1L1148.5 195.1M1142.5 195.1L1148.5 189.1" stroke="#c8161e" stroke-width="1.2"/>
<path d="M1143.8 181.7L1149.8 187.7M1143.8 187.7L1149.8 181.7" stroke="#c8161e" stroke-width="1.2"/>
<path d="M1158.5 176.0L1164.5 182.0M1158.5 182.0L1164.5 176.0" stroke="#c8161e" stroke-width="1.2"/>
<path d="M1144.9 179.7L1150.9 185.7M1144.9 185.7L1150.9 179.7" stroke="#c8161e" stroke-width="1.2"/>
<path d="M1207.3 131.8L1213.3 137.8M1207.3 137.8L1213.3 131.8" stroke="#c8161e" stroke-width="1.2"/>
<path d="M1160.5 173.5L1166.5 179.5M1160.5 179.5L1166.5 173.5" stroke="#c8161e" stroke-width="1.2"/>
<path d="M1161.4 170.6L1167.4 176.6M1161.4 176.6L1167.4 170.6" stroke="#c8161e" stroke-width="1.2"/>
<path d="M1150.7 179.3L1156.7 185.3M1150.7 185.3L1156.7 179.3" stroke="#c8161e" stroke-width="1.2"/>
<path d="M1159.1 167.1L1165.1 173.1M1159.1 173.1L1165.1 167.1" stroke="#c8161e" stroke-width="1.2"/>
<path d="M1215.4 126.6L1221.4 132.6M1215.4 132.6L1221.4 126.6" stroke="#c8161e" stroke-width="1.2"/>
<path d="M1157.6 168.3L1163.6 174.3M1157.6 174.3L1163.6 168.3" stroke="#c8161e" stroke-width="1.2"/>
<path d="M1162.7 170.6L1168.7 176.6M1162.7 176.6L1168.7 170.6" stroke="#c8161e" stroke-width="1.2"/>
<path d="M1138.2 189.8L1144.2 195.8M1138.2 195.8L1144.2 189.8" stroke="#c8161e" stroke-width="1.2"/>
<path d="M1175.8 158.6L1181.8 164.6M1175.8 164.6L1181.8 158.6" stroke="#c8161e" stroke-width="1.2"/>
<path d="M1154.1 175.9L1160.1 181.9M1154.1 181.9L1160.1 175.9" stroke="#c8161e" stroke-width="1.2"/>
<path d="M1138.5 190.8L1144.5 196.8M1138.5 196.8L1144.5 190.8" stroke="#c8161e" stroke-width="1.2"/>
<path d="M1145.3 184.0L1151.3 190.0M1145.3 190.0L1151.3 184.0" stroke="#c8161e" stroke-width="1.2"/>
<path d="M1141.5 191.1L1147.5 197.1M1141.5 197.1L1147.5 191.1" stroke="#c8161e" stroke-width="1.2"/>
<path d="M1162.3 172.2L1168.3 178.2M1162.3 178.2L1168.3 172.2" stroke="#c8161e" stroke-width="1.2"/>
<path d="M1184.7 151.3L1190.7 157.3M1184.7 157.3L1190.7 151.3" stroke="#c8161e" stroke-width="1.2"/>
<path d="M1197.8 139.5L1203.8 145.5M1197.8 145.5L1203.8 139.5" stroke="#c8161e" stroke-width="1.2"/>
<path d="M1195.0 139.4L1201.0 145.4M1195.0 145.4L1201.0 139.4" stroke="#c8161e" stroke-width="1.2"/>
<path d="M1169.1 165.9L1175.1 171.9M1169.1 171.9L1175.1 165.9" stroke="#c8161e" stroke-width="1.2"/>
<path d="M1216.3 130.1L1222.3 136.1M1216.3 136.1L1222.3 130.1" stroke="#c8161e" stroke-width="1.2"/>
<path d="M1195.7 141.3L1201.7 147.3M1195.7 147.3L1201.7 141.3" stroke="#c8161e" stroke-width="1.2"/>
<path d="M1141.6 182.4L1147.6 188.4M1141.6 188.4L1147.6 182.4" stroke="#c8161e" stroke-width="1.2"/>
<path d="M1209.0 130.9L1215.0 136.9M1209.0 136.9L1215.0 130.9" stroke="#c8161e" stroke-width="1.2"/>
<path d="M1196.4 139.0L1202.4 145.0M1196.4 145.0L1202.4 139.0" stroke="#c8161e" stroke-width="1.2"/>
<path d="M1149.2 179.6L1155.2 185.6M1149.2 185.6L1155.2 179.6" stroke="#c8161e" stroke-width="1.2"/>
<path d="M1178.2 153.2L1184.2 159.2M1178.2 159.2L1184.2 153.2" stroke="#c8161e" stroke-width="1.2"/>
<path d="M1202.1 134.3L1208.1 140.3M1202.1 140.3L1208.1 134.3" stroke="#c8161e" stroke-width="1.2"/>
<path d="M1184.5 147.6L1190.5 153.6M1184.5 153.6L1190.5 147.6" stroke="#c8161e" stroke-width="1.2"/>
<path d="M1192.4 143.4L1198.4 149.4M1192.4 149.4L1198.4 143.4" stroke="#c8161e" stroke-width="1.2"/>
<path d="M1156.4 179.1L1162.4 185.1M1156.4 185.1L1162.4 179.1" stroke="#c8161e" stroke-width="1.2"/>
<path d="M1148.7 181.7L1154.7 187.7M1148.7 187.7L1154.7 181.7" stroke="#c8161e" stroke-width="1.2"/>
<path d="M1146.5 178.5L1152.5 184.5M1146.5 184.5L1152.5 178.5" stroke="#c8161e" stroke-width="1.2"/>
<path d="M1182.5 152.0L1188.5 158.0M1182.5 158.0L1188.5 152.0" stroke="#c8161e" stroke-width="1.2"/>
<path d="M1187.9 147.1L1193.9 153.1M1187.9 153.1L1193.9 147.1" stroke="#c8161e" stroke-width="1.2"/>
<path d="M1177.0 163.0L1183.0 169.0M1177.0 169.0L1183.0 163.0" stroke="#c8161e" stroke-width="1.2"/>
<path d="M1201.5 135.6L1207.5 141.6M1201.5 141.6L1207.5 135.6" stroke="#c8161e" stroke-width="1.2"/>
<path d="M1178.1 156.5L1184.1 162.5M1178.1 162.5L1184.1 156.5" stroke="#c8161e" stroke-width="1.2"/>
<path d="M1190.5 151.5L1196.5 157.5M1190.5 157.5L1196.5 151.5" stroke="#c8161e" stroke-width="1.2"/>
<line x1="1144.2" y1="187.2" x2="1212.4" y2="132.9" stroke="#8a1015" stroke-width="1"/>
<rect x="793.0" y="61.5" width="509.0" height="405.5" fill="none" stroke="#1a1a1a" stroke-width="1.8"/>
<line x1="894.8" y1="467.0" x2="894.8" y2="462.0" stroke="#111" stroke-width="1.5"/>
<line x1="894.8" y1="61.5" x2="894.8" y2="66.5" stroke="#111" stroke-width="1.5"/>
<line x1="793.0" y1="385.9" x2="798.0" y2="385.9" stroke="#111" stroke-width="1.5"/>
<line x1="1302.0" y1="385.9" x2="1297.0" y2="385.9" stroke="#111" stroke-width="1.5"/>
<line x1="996.6" y1="467.0" x2="996.6" y2="462.0" stroke="#111" stroke-width="1.5"/>
<line x1="996.6" y1="61.5" x2="996.6" y2="66.5" stroke="#111" stroke-width="1.5"/>
<line x1="793.0" y1="304.8" x2="798.0" y2="304.8" stroke="#111" stroke-width="1.5"/>
<line x1="1302.0" y1="304.8" x2="1297.0" y2="304.8" stroke="#111" stroke-width="1.5"/>
<line x1="1098.4" y1="467.0" x2="1098.4" y2="462.0" stroke="#111" stroke-width="1.5"/>
<line x1="1098.4" y1="61.5" x2="1098.4" y2="66.5" stroke="#111" stroke-width="1.5"/>
<line x1="793.0" y1="223.7" x2="798.0" y2="223.7" stroke="#111" stroke-width="1.5"/>
<line x1="1302.0" y1="223.7" x2="1297.0" y2="223.7" stroke="#111" stroke-width="1.5"/>
<line x1="1200.2" y1="467.0" x2="1200.2" y2="462.0" stroke="#111" stroke-width="1.5"/>
<line x1="1200.2" y1="61.5" x2="1200.2" y2="66.5" stroke="#111" stroke-width="1.5"/>
<line x1="793.0" y1="142.6" x2="798.0" y2="142.6" stroke="#111" stroke-width="1.5"/>
<line x1="1302.0" y1="142.6" x2="1297.0" y2="142.6" stroke="#111" stroke-width="1.5"/>
<text x="789" y="474.2" font-size="20.4" font-weight="bold" text-anchor="end" fill="#111" >0</text>
<text x="793.0" y="490.5" font-size="20.4" font-weight="bold" text-anchor="middle" fill="#111" >0</text>
<text x="789" y="393.1" font-size="20.4" font-weight="bold" text-anchor="end" fill="#111" >1</text>
<text x="894.8" y="490.5" font-size="20.4" font-weight="bold" text-anchor="middle" fill="#111" >1</text>
<text x="789" y="312.0" font-size="20.4" font-weight="bold" text-anchor="end" fill="#111" >2</text>
<text x="996.6" y="490.5" font-size="20.4" font-weight="bold" text-anchor="middle" fill="#111" >2</text>
<text x="789" y="230.9" font-size="20.4" font-weight="bold" text-anchor="end" fill="#111" >3</text>
<text x="1098.4" y="490.5" font-size="20.4" font-weight="bold" text-anchor="middle" fill="#111" >3</text>
<text x="789" y="149.8" font-size="20.4" font-weight="bold" text-anchor="end" fill="#111" >4</text>
<text x="1200.2" y="490.5" font-size="20.4" font-weight="bold" text-anchor="middle" fill="#111" >4</text>
<text x="789" y="68.7" font-size="20.4" font-weight="bold" text-anchor="end" fill="#111" >5</text>
<text x="1302.0" y="490.5" font-size="20.4" font-weight="bold" text-anchor="middle" fill="#111" >5</text>
<text x="958" y="511" font-size="20.4" font-weight="bold" text-anchor="start" fill="#111" >Observed</text>
<text x="1054.5" y="511" font-size="17.5" font-weight="bold" text-anchor="start" fill="#111" >GNSS</text>
<text x="1105" y="511" font-size="20.4" font-weight="bold" text-anchor="start" fill="#111" >[m]</text>
<text x="0" y="0" font-size="20.4" font-weight="bold" text-anchor="middle" fill="#111" transform="translate(768,264) rotate(-90)">DEM [m]</text>
<text x="1046" y="44" font-size="20.4" font-weight="bold" text-anchor="middle" fill="#111" >Elevation Comparison (416 points)</text>
<text x="802" y="88" font-size="20.4" font-weight="bold" text-anchor="start" fill="#111" >R</text>
<text x="817" y="77" font-size="13" font-weight="bold" text-anchor="start" fill="#111" >2</text>
<text x="825" y="88" font-size="20.4" font-weight="bold" text-anchor="start" fill="#111" >: 0.999</text>
<text x="703.3" y="62" font-size="43.5" font-weight="normal" text-anchor="start" fill="#111" >(b)</text>
<defs><clipPath id="clipc"><polygon points="58.3,692.0 58.3,682.0 62.3,676.0 71.9,670.4 288.0,581.3 300.0,579.6 311.0,583.0 318.0,592.0 322.0,613.0 344.0,693.0 365.0,767.0 386.0,842.0 412.0,892.0 440.0,938.0 462.0,982.0 488.0,1013.0 520.0,1049.0 552.0,1084.0 584.0,1118.0 612.0,1151.0 620.0,1162.6 623.0,1174.0 633.0,1264.0 637.0,1366.0 634.5,1375.0 566.4,1453.3 558.8,1458.4 538.6,1459.6 495.7,1445.7 483.0,1433.0 478.0,1420.5 460.4,1342.3 445.2,1299.4 435.0,1286.7 418.0,1261.0 385.0,1205.0 345.0,1158.0 320.4,1127.1 301.4,1109.8 275.5,1087.3 251.3,1071.8 223.7,1045.9 192.6,1001.0 164.9,957.8 140.7,914.6 126.1,883.3 103.8,843.4 87.9,819.5 71.9,795.6 66.3,786.0 65.5,763.7 63.1,739.8"/></clipPath><clipPath id="clipd"><polygon points="738.3,692.0 738.3,682.0 742.3,676.0 751.9,670.4 968.0,581.3 980.0,579.6 991.0,583.0 998.0,592.0 1002.0,613.0 1024.0,693.0 1045.0,767.0 1066.0,842.0 1092.0,892.0 1120.0,938.0 1142.0,982.0 1168.0,1013.0 1200.0,1049.0 1232.0,1084.0 1264.0,1118.0 1292.0,1151.0 1300.0,1162.6 1303.0,1174.0 1313.0,1264.0 1317.0,1366.0 1314.5,1375.0 1246.4,1453.3 1238.8,1458.4 1218.6,1459.6 1175.7,1445.7 1163.0,1433.0 1158.0,1420.5 1140.4,1342.3 1125.2,1299.4 1115.0,1286.7 1098.0,1261.0 1065.0,1205.0 1025.0,1158.0 1000.4,1127.1 981.4,1109.8 955.5,1087.3 931.3,1071.8 903.7,1045.9 872.6,1001.0 844.9,957.8 820.7,914.6 806.1,883.3 783.8,843.4 767.9,819.5 751.9,795.6 746.3,786.0 745.5,763.7 743.1,739.8"/></clipPath><filter id="blur1" x="-20%" y="-20%" width="140%" height="140%"><feGaussianBlur stdDeviation="2"/></filter><filter id="blur3" x="-20%" y="-20%" width="140%" height="140%"><feGaussianBlur stdDeviation="4"/></filter><filter id="blur6" x="-20%" y="-20%" width="140%" height="140%"><feGaussianBlur stdDeviation="7"/></filter></defs>
<g clip-path="url(#clipc)">
<polygon points="58.3,692.0 58.3,682.0 62.3,676.0 71.9,670.4 288.0,581.3 300.0,579.6 311.0,583.0 318.0,592.0 322.0,613.0 344.0,693.0 365.0,767.0 386.0,842.0 412.0,892.0 440.0,938.0 462.0,982.0 488.0,1013.0 520.0,1049.0 552.0,1084.0 584.0,1118.0 612.0,1151.0 620.0,1162.6 623.0,1174.0 633.0,1264.0 637.0,1366.0 634.5,1375.0 566.4,1453.3 558.8,1458.4 538.6,1459.6 495.7,1445.7 483.0,1433.0 478.0,1420.5 460.4,1342.3 445.2,1299.4 435.0,1286.7 418.0,1261.0 385.0,1205.0 345.0,1158.0 320.4,1127.1 301.4,1109.8 275.5,1087.3 251.3,1071.8 223.7,1045.9 192.6,1001.0 164.9,957.8 140.7,914.6 126.1,883.3 103.8,843.4 87.9,819.5 71.9,795.6 66.3,786.0 65.5,763.7 63.1,739.8" fill="#c9c3ad"/>
<ellipse cx="120" cy="720" rx="40" ry="25" fill="#d2ccb8" filter="url(#blur6)"/>
<ellipse cx="150" cy="800" rx="35" ry="30" fill="#c4bda8" filter="url(#blur6)"/>
<ellipse cx="200" cy="900" rx="30" ry="40" fill="#c5bea9" filter="url(#blur6)"/>
<ellipse cx="260" cy="1000" rx="30" ry="30" fill="#c4bda8" filter="url(#blur6)"/>
<ellipse cx="420" cy="1250" rx="25" ry="40" fill="#d3cdba" filter="url(#blur6)"/>
<ellipse cx="520" cy="1420" rx="30" ry="25" fill="#cec8b4" filter="url(#blur6)"/>
<ellipse cx="110" cy="860" rx="20" ry="25" fill="#bfb8a2" filter="url(#blur6)"/>
<ellipse cx="130" cy="735" rx="50" ry="12" fill="#dcd8c8" filter="url(#blur6)"/>
<ellipse cx="170" cy="830" rx="18" ry="14" fill="#b8b09a" filter="url(#blur6)"/>
<ellipse cx="215" cy="960" rx="16" ry="12" fill="#b9b19b" filter="url(#blur6)"/>
<ellipse cx="265" cy="1050" rx="14" ry="10" fill="#bab29c" filter="url(#blur6)"/>
<ellipse cx="380" cy="1180" rx="14" ry="10" fill="#bdb6a0" filter="url(#blur6)"/>
<path d="M192.0 706.0 L215.0 700.0 L226.0 700.0 L213.0 760.0 L230.0 803.0 L255.0 866.0 L274.0 913.5 L298.0 974.0 L310.0 1008.0 L321.5 1042.0 L332.0 1052.0 L359.0 1084.6 L395.0 1120.5 L413.0 1143.8 L431.0 1156.4 L466.6 1174.3 L481.0 1190.0 L491.0 1225.0 L499.0 1260.0 L504.0 1297.0 L504.0 1320.0 L515.0 1380.0 L545.0 1470.0 L700.0 1500.0 L700.0 690.0 Z" fill="#b3aea2"/>
<path d="M221.0 560.0 L222.0 610.0 L224.0 650.0 L226.0 690.0 L233.0 715.0 L242.0 743.0 L254.0 775.0 L266.0 805.0 L281.0 835.0 L297.0 866.0 L312.0 897.0 L327.0 927.0 L338.0 957.0 L346.0 988.0 L358.0 1018.0 L370.0 1049.0 L392.0 1080.0 L419.0 1110.0 L450.0 1140.0 L480.0 1171.0 L503.0 1202.0 L523.0 1233.0 L529.0 1294.0 L541.0 1355.0 L572.0 1416.0 L590.0 1450.0 L610.0 1480.0 L1010.0 1680.0 L621.0 360.0 Z" fill="#877c6d" filter="url(#blur1)"/>
<path d="M242.0 560.0 L244.0 610.0 L246.0 650.0 L249.0 690.0 L256.0 715.0 L266.0 743.0 L280.0 775.0 L294.0 805.0 L309.0 835.0 L325.0 866.0 L341.0 897.0 L357.0 927.0 L370.0 957.0 L380.0 988.0 L392.0 1018.0 L405.0 1049.0 L426.0 1080.0 L452.0 1110.0 L482.0 1140.0 L512.0 1171.0 L535.0 1202.0 L553.0 1233.0 L560.0 1294.0 L570.0 1355.0 L598.0 1416.0 L615.0 1450.0 L635.0 1480.0 L1035.0 1680.0 L642.0 360.0 Z" fill="#817f79" filter="url(#blur1)"/>
<path d="M280.0 565.0 C280.3 573.3 281.3 600.0 282.0 615.0 C282.7 630.0 283.2 641.7 284.0 655.0 C284.8 668.3 285.3 684.2 287.0 695.0 C288.7 705.8 291.2 711.2 294.0 720.0 C296.8 728.8 300.0 738.0 304.0 748.0 C308.0 758.0 313.3 769.7 318.0 780.0 C322.7 790.3 327.2 800.0 332.0 810.0 C336.8 820.0 341.8 829.8 347.0 840.0 C352.2 850.2 357.7 860.7 363.0 871.0 C368.3 881.3 373.7 891.8 379.0 902.0 C384.3 912.2 390.2 922.0 395.0 932.0 C399.8 942.0 404.2 951.8 408.0 962.0 C411.8 972.2 414.3 982.8 418.0 993.0 C421.7 1003.2 425.8 1012.8 430.0 1023.0 C434.2 1033.2 437.3 1043.7 443.0 1054.0 C448.7 1064.3 456.2 1074.8 464.0 1085.0 C471.8 1095.2 480.7 1105.0 490.0 1115.0 C499.3 1125.0 510.0 1134.8 520.0 1145.0 C530.0 1155.2 541.2 1165.7 550.0 1176.0 C558.8 1186.3 566.2 1196.7 573.0 1207.0 C579.8 1217.3 586.8 1222.7 591.0 1238.0 C595.2 1253.3 595.2 1278.7 598.0 1299.0 C600.8 1319.3 601.7 1339.7 608.0 1360.0 C614.3 1380.3 628.5 1405.2 636.0 1421.0 C643.5 1436.8 646.8 1444.3 653.0 1455.0 C659.2 1465.7 669.7 1480.0 673.0 1485.0" fill="none" stroke="#8e8c86" stroke-width="14" filter="url(#blur3)"/>
<path d="M316.0 613.0 C319.7 626.3 330.8 667.3 338.0 693.0 C345.2 718.7 352.0 742.2 359.0 767.0 C366.0 791.8 372.2 821.2 380.0 842.0 C387.8 862.8 397.0 876.0 406.0 892.0 C415.0 908.0 425.7 923.0 434.0 938.0 C442.3 953.0 448.0 969.5 456.0 982.0 C464.0 994.5 472.3 1001.8 482.0 1013.0 C491.7 1024.2 503.3 1037.2 514.0 1049.0 C524.7 1060.8 535.3 1072.5 546.0 1084.0 C556.7 1095.5 568.0 1106.8 578.0 1118.0 C588.0 1129.2 601.3 1145.5 606.0 1151.0" fill="none" stroke="#767470" stroke-width="10" filter="url(#blur1)"/>
<path d="M202.0 762.0 C204.8 769.2 212.0 787.3 219.0 805.0 C226.0 822.7 236.7 849.6 244.0 868.0 C251.3 886.4 255.8 897.5 263.0 915.5 C270.2 933.5 281.0 960.2 287.0 976.0 C293.0 991.8 295.1 998.7 299.0 1010.0 C302.9 1021.3 306.8 1036.7 310.5 1044.0 C314.2 1051.3 314.8 1046.9 321.0 1054.0 C327.2 1061.1 337.5 1075.2 348.0 1086.6 C358.5 1098.0 375.0 1112.6 384.0 1122.5 C393.0 1132.4 396.0 1139.8 402.0 1145.8 C408.0 1151.8 411.1 1153.3 420.0 1158.4 C428.9 1163.5 447.3 1170.7 455.6 1176.3 C463.9 1181.9 465.9 1183.5 470.0 1192.0 C474.1 1200.5 477.0 1215.3 480.0 1227.0 C483.0 1238.7 485.8 1250.0 488.0 1262.0 C490.2 1274.0 492.2 1292.8 493.0 1299.0" fill="none" stroke="#efede2" stroke-width="10" filter="url(#blur1)"/>
<path d="M497.0 1290.0 C498.0 1296.7 500.3 1316.7 503.0 1330.0 C505.7 1343.3 509.2 1358.7 513.0 1370.0 C516.8 1381.3 521.8 1390.7 526.0 1398.0 C530.2 1405.3 536.0 1411.3 538.0 1414.0" fill="none" stroke="#e8e6da" stroke-width="9" filter="url(#blur1)"/>
<polygon points="68,756 186,714 192,735 120,770 75,790" fill="#d8d4c4" filter="url(#blur3)"/>
<line x1="100" y1="786" x2="183" y2="749.6" stroke="#e6e3d6" stroke-width="4"/>
<line x1="146" y1="859" x2="206" y2="822.6" stroke="#e6e3d6" stroke-width="4"/>
<line x1="186" y1="929" x2="233" y2="902" stroke="#e6e3d6" stroke-width="4"/>
<line x1="213" y1="982" x2="263" y2="949" stroke="#e6e3d6" stroke-width="4"/>
<line x1="90" y1="770" x2="180" y2="735" stroke="#e6e3d6" stroke-width="4"/>
<path d="M65 752 L120 730 L186 710" stroke="#2e2e2c" stroke-width="2.4" fill="none"/>
<path d="M176 905 L237 880" stroke="#3a3a38" stroke-width="1.6" fill="none"/>
<path d="M66.0 764.0 C68.0 765.8 74.2 770.3 78.0 775.0 C81.8 779.7 86.3 783.3 89.0 792.0 C91.7 800.7 87.3 811.3 94.0 827.0 C100.7 842.7 120.3 871.2 129.0 886.0 C137.7 900.8 140.3 905.3 146.0 916.0 C151.7 926.7 157.8 941.3 163.0 950.0 C168.2 958.7 171.2 963.8 177.0 968.0 C182.8 972.2 190.2 967.0 198.0 975.0 C205.8 983.0 217.2 1005.3 224.0 1016.0 C230.8 1026.7 232.5 1028.3 239.0 1039.0 C245.5 1049.7 259.0 1073.2 263.0 1080.0" stroke="#1d2430" stroke-width="3.5" fill="none"/>
<path d="M153 911 L172 903 L177 930 L177 966" stroke="#1d2430" stroke-width="2.5" fill="none"/>
<path d="M270 1086 L300 1072 L315 1105 L305 1115" stroke="#141820" stroke-width="3" fill="none"/>
<path d="M305 1115 L326 1105 L341 1132 L372 1180 L400 1220 L430 1270 L445 1300" stroke="#141820" stroke-width="3" fill="none"/>
<path d="M330 1108 L360 1150 L390 1195 L420 1240 L436 1262" stroke="#1e2228" stroke-width="2" fill="none"/>
<path d="M458 1338 L480 1322 L490 1326" stroke="#1e2228" stroke-width="2.5" fill="none"/>
<ellipse cx="156" cy="925" rx="9" ry="7" fill="#2d3a63"/>
<ellipse cx="190" cy="705" rx="7" ry="3.5" fill="#2a2f5a" transform="rotate(-25 190 705)"/>
<polygon points="469,1390 484,1386 492,1418 477,1422" fill="#1f3a7a"/>
<ellipse cx="250" cy="1032" rx="10" ry="8" fill="#4a4a4e" opacity="0.6"/>
<path d="M195.5 709.0 C198.8 717.7 209.3 745.2 215.5 761.0 C221.7 776.8 225.5 786.3 232.5 804.0 C239.5 821.7 250.2 848.6 257.5 867.0 C264.8 885.4 269.3 896.5 276.5 914.5 C283.7 932.5 294.5 959.2 300.5 975.0 C306.5 990.8 308.6 997.7 312.5 1009.0 C316.4 1020.3 320.3 1035.7 324.0 1043.0 C327.7 1050.3 328.2 1045.9 334.5 1053.0 C340.8 1060.1 351.0 1074.2 361.5 1085.6 C372.0 1097.0 388.5 1111.6 397.5 1121.5 C406.5 1131.4 409.5 1138.8 415.5 1144.8 C421.5 1150.8 424.6 1152.3 433.5 1157.4 C442.4 1162.5 460.8 1169.7 469.1 1175.3 C477.4 1180.9 481.1 1188.4 483.5 1191.0" fill="none" stroke="#1b2d3a" stroke-width="2.5"/>
<path d="M190.0 708.0 C193.3 716.7 203.8 744.2 210.0 760.0 C216.2 775.8 220.0 785.3 227.0 803.0 C234.0 820.7 244.7 847.6 252.0 866.0 C259.3 884.4 263.8 895.5 271.0 913.5 C278.2 931.5 289.0 958.2 295.0 974.0 C301.0 989.8 303.1 996.7 307.0 1008.0 C310.9 1019.3 314.8 1034.7 318.5 1042.0 C322.2 1049.3 322.8 1044.9 329.0 1052.0 C335.2 1059.1 345.5 1073.2 356.0 1084.6 C366.5 1096.0 383.0 1110.6 392.0 1120.5 C401.0 1130.4 404.0 1137.8 410.0 1143.8 C416.0 1149.8 419.1 1151.3 428.0 1156.4 C436.9 1161.5 455.3 1168.7 463.6 1174.3 C471.9 1179.9 473.9 1181.5 478.0 1190.0 C482.1 1198.5 485.0 1213.3 488.0 1225.0 C491.0 1236.7 493.8 1248.0 496.0 1260.0 C498.2 1272.0 500.2 1290.8 501.0 1297.0" fill="none" stroke="#72cc44" stroke-width="6.5" stroke-linecap="round"/>
<line x1="262" y1="1034" x2="341" y2="993" stroke="#72cf42" stroke-width="8" opacity="0.95"/>
<line x1="442.3" y1="1221.5" x2="563.3" y2="1158.8" stroke="#72cf42" stroke-width="8" opacity="0.95"/>
<line x1="490.6" y1="1399.6" x2="579.8" y2="1348.4" stroke="#72cf42" stroke-width="8" opacity="0.95"/>
<line x1="40" y1="751.5" x2="680" y2="751.5" stroke="#fff" stroke-opacity="0.35" stroke-width="1"/>
</g>
<polygon points="58.3,692.0 58.3,682.0 62.3,676.0 71.9,670.4 288.0,581.3 300.0,579.6 311.0,583.0 318.0,592.0 322.0,613.0 344.0,693.0 365.0,767.0 386.0,842.0 412.0,892.0 440.0,938.0 462.0,982.0 488.0,1013.0 520.0,1049.0 552.0,1084.0 584.0,1118.0 612.0,1151.0 620.0,1162.6 623.0,1174.0 633.0,1264.0 637.0,1366.0 634.5,1375.0 566.4,1453.3 558.8,1458.4 538.6,1459.6 495.7,1445.7 483.0,1433.0 478.0,1420.5 460.4,1342.3 445.2,1299.4 435.0,1286.7 418.0,1261.0 385.0,1205.0 345.0,1158.0 320.4,1127.1 301.4,1109.8 275.5,1087.3 251.3,1071.8 223.7,1045.9 192.6,1001.0 164.9,957.8 140.7,914.6 126.1,883.3 103.8,843.4 87.9,819.5 71.9,795.6 66.3,786.0 65.5,763.7 63.1,739.8" fill="none" stroke="#55575a" stroke-width="1.2"/>
<polygon points="297.4,593.5 289.9,606.0 304.9,606.0" fill="#fff" stroke="#333" stroke-width="1"/>
<polygon points="158.0,651.0 150.5,663.5 165.5,663.5" fill="#fff" stroke="#333" stroke-width="1"/>
<polygon points="77.0,685.0 69.5,697.5 84.5,697.5" fill="#fff" stroke="#333" stroke-width="1"/>
<polygon points="330.8,730.2 323.3,742.7 338.3,742.7" fill="#fff" stroke="#333" stroke-width="1"/>
<polygon points="205.4,749.5 197.9,762.0 212.9,762.0" fill="#fff" stroke="#333" stroke-width="1"/>
<polygon points="86.3,773.5 78.8,786.0 93.8,786.0" fill="#fff" stroke="#333" stroke-width="1"/>
<polygon points="366.8,845.8 359.3,858.3 374.3,858.3" fill="#fff" stroke="#333" stroke-width="1"/>
<polygon points="257.4,884.0 249.9,896.5 264.9,896.5" fill="#fff" stroke="#333" stroke-width="1"/>
<polygon points="187.0,950.5 179.5,963.0 194.5,963.0" fill="#fff" stroke="#333" stroke-width="1"/>
<polygon points="443.0,989.5 435.5,1002.0 450.5,1002.0" fill="#fff" stroke="#333" stroke-width="1"/>
<polygon points="302.0,999.5 294.5,1012.0 309.5,1012.0" fill="#fff" stroke="#333" stroke-width="1"/>
<polygon points="247.5,1035.0 240.0,1047.5 255.0,1047.5" fill="#fff" stroke="#333" stroke-width="1"/>
<polygon points="373.4,1099.8 365.9,1112.3 380.9,1112.3" fill="#fff" stroke="#333" stroke-width="1"/>
<polygon points="348.6,1124.5 341.1,1137.0 356.1,1137.0" fill="#fff" stroke="#333" stroke-width="1"/>
<polygon points="601.3,1170.8 593.8,1183.3 608.8,1183.3" fill="#fff" stroke="#333" stroke-width="1"/>
<polygon points="492.3,1245.1 484.8,1257.6 499.8,1257.6" fill="#fff" stroke="#333" stroke-width="1"/>
<polygon points="451.0,1274.9 443.5,1287.4 458.5,1287.4" fill="#fff" stroke="#333" stroke-width="1"/>
<polygon points="616.8,1360.7 609.3,1373.2 624.3,1373.2" fill="#fff" stroke="#333" stroke-width="1"/>
<polygon points="535.2,1400.4 527.7,1412.9 542.7,1412.9" fill="#fff" stroke="#333" stroke-width="1"/>
<polygon points="498.2,1420.2 490.7,1432.7 505.7,1432.7" fill="#fff" stroke="#333" stroke-width="1"/>
<polygon points="550.0,1435.0 542.5,1447.5 557.5,1447.5" fill="#fff" stroke="#333" stroke-width="1"/>
<rect x="499" y="530" width="194" height="375" fill="#fff"/>
<line x1="497.3" y1="528" x2="497.3" y2="909.5" stroke="#000" stroke-width="4.6"/>
<line x1="495" y1="907.3" x2="696" y2="907.3" stroke="#000" stroke-width="4.6"/>
<text x="510" y="563.5" font-size="29" font-weight="bold" text-anchor="start" fill="#111" textLength="121" lengthAdjust="spacingAndGlyphs">LEGEND</text>
<polygon points="524.7,589.5 517,603.5 532.4,603.5" fill="none" stroke="#777" stroke-width="1.3"/>
<text x="547.5" y="605" font-size="24" font-weight="normal" text-anchor="start" fill="#111" >GCP</text>
<text x="510" y="646" font-size="24.9" font-weight="normal" text-anchor="start" fill="#111" >Point Error [m]</text>
<circle cx="524.6" cy="677.5" r="2.2" fill="#1b2a4a"/>
<text x="547.7" y="686.0" font-size="24.9" font-weight="normal" text-anchor="start" fill="#111" >≤-0.15</text>
<circle cx="524.6" cy="711.7" r="2.2" fill="#2a4f8a"/>
<text x="547.7" y="720.2" font-size="24.9" font-weight="normal" text-anchor="start" fill="#111" >(-0.15;-0.10]</text>
<circle cx="524.6" cy="745.9" r="2.2" fill="#3aa8c8"/>
<text x="547.7" y="754.4" font-size="24.9" font-weight="normal" text-anchor="start" fill="#111" >(-0.10;-0.05]</text>
<circle cx="524.6" cy="780.1" r="2.2" fill="#66bb44"/>
<text x="547.7" y="788.6" font-size="24.9" font-weight="normal" text-anchor="start" fill="#111" >(-0.05;0.05]</text>
<circle cx="524.6" cy="814.3" r="2.2" fill="#e8e870"/>
<text x="547.7" y="822.8" font-size="24.9" font-weight="normal" text-anchor="start" fill="#111" >(0.05;0.10]</text>
<circle cx="524.6" cy="848.5" r="2.2" fill="#c8902a"/>
<text x="547.7" y="857.0" font-size="24.9" font-weight="normal" text-anchor="start" fill="#111" >(0.10;0.15]</text>
<circle cx="524.6" cy="882.7" r="2.2" fill="#b01822"/>
<text x="547.7" y="891.2" font-size="24.9" font-weight="normal" text-anchor="start" fill="#111" >&gt;0.15</text>
<rect x="37.2" y="1436.3" width="204.0" height="11.0" fill="#000"/>
<rect x="88.6" y="1437.5" width="50.0" height="8.6" fill="#fff"/>
<text x="37.7" y="1426" font-size="22" font-weight="normal" text-anchor="middle" fill="#111" >0</text>
<text x="88.2" y="1426" font-size="22" font-weight="normal" text-anchor="middle" fill="#111" >25</text>
<text x="138.7" y="1426" font-size="22" font-weight="normal" text-anchor="middle" fill="#111" >50</text>
<text x="240.7" y="1426" font-size="22" font-weight="normal" text-anchor="middle" fill="#111" >100</text>
<text x="139.0" y="1472" font-size="22" font-weight="normal" text-anchor="middle" fill="#111" >Meters</text>
<text x="146.1" y="1279" font-size="40.5" font-weight="normal" text-anchor="middle" fill="#111" transform-origin="0 0">N</text>
<path d="M145.4 1288 L118 1381.6 L145 1348 Z" fill="#000" stroke="#000" stroke-width="1.5" stroke-linejoin="miter"/>
<path d="M145.4 1288 L173.3 1381.6 L145 1348 Z" fill="#fff" stroke="#000" stroke-width="3" stroke-linejoin="miter"/>
<text x="26.2" y="571" font-size="43.5" font-weight="normal" text-anchor="start" fill="#111" >(c)</text>
<g clip-path="url(#clipd)">
<polygon points="738.3,692.0 738.3,682.0 742.3,676.0 751.9,670.4 968.0,581.3 980.0,579.6 991.0,583.0 998.0,592.0 1002.0,613.0 1024.0,693.0 1045.0,767.0 1066.0,842.0 1092.0,892.0 1120.0,938.0 1142.0,982.0 1168.0,1013.0 1200.0,1049.0 1232.0,1084.0 1264.0,1118.0 1292.0,1151.0 1300.0,1162.6 1303.0,1174.0 1313.0,1264.0 1317.0,1366.0 1314.5,1375.0 1246.4,1453.3 1238.8,1458.4 1218.6,1459.6 1175.7,1445.7 1163.0,1433.0 1158.0,1420.5 1140.4,1342.3 1125.2,1299.4 1115.0,1286.7 1098.0,1261.0 1065.0,1205.0 1025.0,1158.0 1000.4,1127.1 981.4,1109.8 955.5,1087.3 931.3,1071.8 903.7,1045.9 872.6,1001.0 844.9,957.8 820.7,914.6 806.1,883.3 783.8,843.4 767.9,819.5 751.9,795.6 746.3,786.0 745.5,763.7 743.1,739.8" fill="#e4e77c"/>
<path d="M846.0 560.0 L846.0 640.0 L842.0 667.0 L858.0 686.0 L872.0 700.0 L904.0 760.0 L921.0 803.0 L946.0 866.0 L965.0 913.5 L989.0 974.0 L1001.0 1008.0 L1012.5 1042.0 L1023.0 1052.0 L1050.0 1084.6 L1086.0 1120.5 L1104.0 1143.8 L1122.0 1156.4 L1157.6 1174.3 L1172.0 1190.0 L1182.0 1225.0 L1190.0 1260.0 L1195.0 1297.0 L1197.0 1322.0 L1200.0 1340.0 L1215.0 1420.0 L1240.0 1480.0 L1640.0 1680.0 L1246.0 360.0 Z" fill="#bcd386"/>
<path d="M999.0 1052.0 L1026.0 1084.6 L1062.0 1120.5 L1080.0 1143.8 L1098.0 1156.4 L1133.6 1174.3 L1148.0 1190.0 L1158.0 1225.0 L1166.0 1260.0 L1171.0 1297.0 L1173.0 1322.0 L1173.0 1330.0 L1195.0 1350.0 L1215.0 1395.0 L1240.0 1440.0 L1280.0 1470.0 L1150.0 1480.0 L1142.0 1430.0 L1134.0 1370.0 L1124.0 1320.0 L1112.0 1290.0 L1098.0 1250.0 L1078.0 1210.0 L1055.0 1180.0 L1030.0 1145.0 L1010.0 1105.0 L1003.0 1070.0 Z" fill="#bcd386"/>
<path d="M913.0 560.0 L913.0 606.6 L919.5 656.0 L921.7 720.8 L940.0 783.0 L961.0 847.0 L1000.0 931.0 L1020.0 960.0 L1032.0 1005.0 L1045.0 1031.0 L1072.0 1076.0 L1100.0 1111.0 L1145.0 1150.0 L1183.0 1176.0 L1195.0 1200.0 L1201.0 1221.0 L1203.0 1258.0 L1206.0 1289.0 L1218.6 1352.0 L1234.0 1390.0 L1251.0 1415.0 L1257.0 1436.0 L1265.0 1470.0 L1665.0 1670.0 L1313.0 360.0 Z" fill="#8dbea0"/>
<path d="M943.0 560.0 L944.0 594.0 L950.0 656.0 L961.0 721.0 L977.0 783.0 L1000.0 845.0 L1022.0 888.0 L1058.0 950.0 L1074.0 990.0 L1090.0 1025.0 L1100.0 1058.0 L1117.0 1085.0 L1137.0 1102.0 L1166.0 1131.0 L1188.0 1147.0 L1210.0 1163.0 L1226.0 1195.0 L1239.0 1226.0 L1245.0 1258.0 L1247.0 1320.0 L1260.0 1360.0 L1270.0 1380.0 L1287.0 1405.0 L1300.0 1440.0 L1700.0 1640.0 L1343.0 360.0 Z" fill="#64a5b8"/>
<path d="M979.0 560.0 L980.0 606.0 L983.0 634.6 L988.0 665.0 L995.0 699.0 L1005.0 730.0 L1014.3 763.8 L1030.0 807.0 L1050.0 848.0 L1072.0 891.7 L1101.0 935.6 L1106.0 950.0 L1125.6 994.9 L1136.4 1021.8 L1147.2 1057.7 L1161.5 1075.6 L1188.4 1100.0 L1226.3 1128.4 L1258.0 1152.1 L1283.2 1175.8 L1289.5 1194.8 L1291.0 1210.5 L1284.8 1258.0 L1286.0 1320.0 L1292.0 1340.0 L1304.0 1375.0 L1320.0 1400.0 L1720.0 1600.0 L1379.0 360.0 Z" fill="#2a8cc6"/>
<path d="M747 742 L782 742 L784 765 L778 790 L792 830 L805 880 L790 880 L770 840 L752 800 Z" fill="#f9e25a" opacity="0.9" filter="url(#blur1)"/>
<path d="M879.6 999.0 L910.7 1043.9 L938.3 1069.8 L962.5 1085.3 L988.4 1107.8 L1007.4 1125.1 L1032.0 1156.0 L1072.0 1203.0 L1105.0 1259.0 L1122.0 1284.7 L1132.2 1297.4 L1147.4 1340.3 L1165.0 1418.5 L1170.0 1431.0 L1182.7 1443.7" stroke="#e4e77c" stroke-width="9" fill="none"/>
<path d="M1180.0 1325.0 L1190.0 1350.0 L1205.0 1380.0 L1222.0 1415.0" stroke="#f9e25a" stroke-width="12" fill="none"/>
<line x1="870" y1="708" x2="786" y2="744.5" stroke="#f9e25a" stroke-width="6"/>
<line x1="870" y1="708" x2="786" y2="744.5" stroke="#eeae3c" stroke-width="2.5"/>
<line x1="921" y1="876" x2="862" y2="905" stroke="#f9e25a" stroke-width="6"/>
<line x1="921" y1="876" x2="862" y2="905" stroke="#eeae3c" stroke-width="2.5"/>
<line x1="1180" y1="1322" x2="1140" y2="1338" stroke="#f9e25a" stroke-width="6"/>
<line x1="1180" y1="1322" x2="1140" y2="1338" stroke="#eeae3c" stroke-width="2.5"/>
<path d="M870.0 708.0 C873.3 716.7 883.8 744.2 890.0 760.0 C896.2 775.8 900.0 785.3 907.0 803.0 C914.0 820.7 924.7 847.6 932.0 866.0 C939.3 884.4 943.8 895.5 951.0 913.5 C958.2 931.5 969.0 958.2 975.0 974.0 C981.0 989.8 983.1 996.7 987.0 1008.0 C990.9 1019.3 996.6 1036.3 998.5 1042.0" fill="none" stroke="#f9e25a" stroke-width="18" stroke-linecap="round"/>
<path d="M998.5 1042.0 C1000.2 1043.7 1002.8 1044.9 1009.0 1052.0 C1015.2 1059.1 1025.5 1073.2 1036.0 1084.6 C1046.5 1096.0 1063.0 1110.6 1072.0 1120.5 C1081.0 1130.4 1084.0 1137.8 1090.0 1143.8 C1096.0 1149.8 1099.1 1151.3 1108.0 1156.4 C1116.9 1161.5 1135.3 1168.7 1143.6 1174.3 C1151.9 1179.9 1153.9 1181.5 1158.0 1190.0 C1162.1 1198.5 1165.0 1213.3 1168.0 1225.0 C1171.0 1236.7 1173.8 1248.0 1176.0 1260.0 C1178.2 1272.0 1179.8 1286.7 1181.0 1297.0 C1182.2 1307.3 1182.7 1317.8 1183.0 1322.0" fill="none" stroke="#f9e25a" stroke-width="26" stroke-linecap="round"/>
<path d="M870.0 708.0 C873.3 716.7 883.8 744.2 890.0 760.0 C896.2 775.8 900.0 785.3 907.0 803.0 C914.0 820.7 924.7 847.6 932.0 866.0 C939.3 884.4 943.8 895.5 951.0 913.5 C958.2 931.5 969.0 958.2 975.0 974.0 C981.0 989.8 983.1 996.7 987.0 1008.0 C990.9 1019.3 996.6 1036.3 998.5 1042.0" fill="none" stroke="#f8a84a" stroke-width="12" stroke-linecap="round"/>
<path d="M998.5 1042.0 C1000.2 1043.7 1002.8 1044.9 1009.0 1052.0 C1015.2 1059.1 1025.5 1073.2 1036.0 1084.6 C1046.5 1096.0 1063.0 1110.6 1072.0 1120.5 C1081.0 1130.4 1084.0 1137.8 1090.0 1143.8 C1096.0 1149.8 1099.1 1151.3 1108.0 1156.4 C1116.9 1161.5 1135.3 1168.7 1143.6 1174.3 C1151.9 1179.9 1153.9 1181.5 1158.0 1190.0 C1162.1 1198.5 1165.0 1213.3 1168.0 1225.0 C1171.0 1236.7 1173.8 1248.0 1176.0 1260.0 C1178.2 1272.0 1179.8 1286.7 1181.0 1297.0 C1182.2 1307.3 1182.7 1317.8 1183.0 1322.0" fill="none" stroke="#f8a84a" stroke-width="16" stroke-linecap="round"/>
<path d="M870.0 708.0 C873.3 716.7 883.8 744.2 890.0 760.0 C896.2 775.8 900.0 785.3 907.0 803.0 C914.0 820.7 924.7 847.6 932.0 866.0 C939.3 884.4 943.8 895.5 951.0 913.5 C958.2 931.5 969.0 958.2 975.0 974.0 C981.0 989.8 983.1 996.7 987.0 1008.0 C990.9 1019.3 996.6 1036.3 998.5 1042.0" fill="none" stroke="#e35b20" stroke-width="9" stroke-linecap="round"/>
<path d="M870.0 708.0 C873.3 716.7 883.8 744.2 890.0 760.0 C896.2 775.8 900.0 785.3 907.0 803.0 C914.0 820.7 924.7 847.6 932.0 866.0 C939.3 884.4 943.8 895.5 951.0 913.5 C958.2 931.5 969.0 958.2 975.0 974.0 C981.0 989.8 983.1 996.7 987.0 1008.0 C990.9 1019.3 996.6 1036.3 998.5 1042.0" fill="none" stroke="#dc4a1e" stroke-width="3.5" stroke-linecap="round" opacity="0.8"/>
<path d="M998.5 1042.0 C1000.2 1043.7 1002.8 1044.9 1009.0 1052.0 C1015.2 1059.1 1025.5 1073.2 1036.0 1084.6 C1046.5 1096.0 1063.0 1110.6 1072.0 1120.5 C1081.0 1130.4 1084.0 1137.8 1090.0 1143.8 C1096.0 1149.8 1099.1 1151.3 1108.0 1156.4 C1116.9 1161.5 1135.3 1168.7 1143.6 1174.3 C1151.9 1179.9 1153.9 1181.5 1158.0 1190.0 C1162.1 1198.5 1165.0 1213.3 1168.0 1225.0 C1171.0 1236.7 1173.8 1248.0 1176.0 1260.0 C1178.2 1272.0 1179.8 1286.7 1181.0 1297.0 C1182.2 1307.3 1182.7 1317.8 1183.0 1322.0" fill="none" stroke="#e35b20" stroke-width="11" stroke-linecap="round"/>
<path d="M998.5 1042.0 C1000.2 1043.7 1002.8 1044.9 1009.0 1052.0 C1015.2 1059.1 1025.5 1073.2 1036.0 1084.6 C1046.5 1096.0 1063.0 1110.6 1072.0 1120.5 C1081.0 1130.4 1084.0 1137.8 1090.0 1143.8 C1096.0 1149.8 1099.1 1151.3 1108.0 1156.4 C1116.9 1161.5 1135.3 1168.7 1143.6 1174.3 C1151.9 1179.9 1153.9 1181.5 1158.0 1190.0 C1162.1 1198.5 1165.0 1213.3 1168.0 1225.0 C1171.0 1236.7 1173.8 1248.0 1176.0 1260.0 C1178.2 1272.0 1179.8 1286.7 1181.0 1297.0 C1182.2 1307.3 1182.7 1317.8 1183.0 1322.0" fill="none" stroke="#dc4a1e" stroke-width="4" stroke-linecap="round" opacity="0.8"/>
<rect x="826" y="912" width="8" height="16" fill="#c0141c" opacity="0.85"/>
<rect x="1149.6" y="1001.2" width="2.2" height="1.9" fill="#e8f4f8"/><rect x="1192.6" y="1043.8" width="1.5" height="2.3" fill="#e8f4f8"/><rect x="1155.2" y="1003.5" width="3.5" height="1.7" fill="#e8f4f8"/><rect x="1208.8" y="1067.0" width="2.8" height="1.2" fill="#e8f4f8"/><rect x="1183.9" y="1044.8" width="2.5" height="2.1" fill="#e8f4f8"/><rect x="1197.1" y="1048.9" width="3.0" height="1.9" fill="#e8f4f8"/><rect x="1161.6" y="1008.1" width="3.2" height="1.7" fill="#e8f4f8"/><rect x="1192.1" y="1054.1" width="2.9" height="2.4" fill="#e8f4f8"/><rect x="1161.2" y="1018.4" width="2.4" height="2.4" fill="#e8f4f8"/><rect x="1217.6" y="1071.7" width="1.8" height="1.3" fill="#e8f4f8"/><rect x="1222.2" y="1081.2" width="2.8" height="1.5" fill="#e8f4f8"/><rect x="1177.2" y="1030.8" width="2.2" height="1.9" fill="#e8f4f8"/><rect x="1178.5" y="1039.3" width="2.9" height="2.4" fill="#e8f4f8"/><rect x="1204.6" y="1069.2" width="2.8" height="1.2" fill="#e8f4f8"/><rect x="1205.3" y="1069.7" width="3.3" height="1.9" fill="#e8f4f8"/><rect x="1199.6" y="1053.5" width="3.2" height="1.9" fill="#e8f4f8"/><rect x="1159.7" y="1006.3" width="3.2" height="2.5" fill="#e8f4f8"/><rect x="1132.7" y="984.7" width="2.3" height="1.2" fill="#e8f4f8"/><rect x="1152.0" y="1007.3" width="3.2" height="1.1" fill="#e8f4f8"/><rect x="1191.8" y="1042.6" width="2.9" height="1.5" fill="#e8f4f8"/><rect x="1207.2" y="1071.9" width="2.5" height="2.5" fill="#e8f4f8"/><rect x="1161.8" y="1009.1" width="2.7" height="1.0" fill="#e8f4f8"/><rect x="1147.4" y="996.7" width="2.7" height="1.2" fill="#e8f4f8"/><rect x="1128.0" y="979.7" width="2.1" height="2.4" fill="#e8f4f8"/><rect x="1216.0" y="1073.6" width="2.4" height="1.8" fill="#e8f4f8"/><rect x="1188.0" y="1045.8" width="2.6" height="1.9" fill="#e8f4f8"/><rect x="1218.9" y="1078.5" width="2.4" height="2.1" fill="#e8f4f8"/><rect x="1152.4" y="1001.1" width="3.5" height="1.8" fill="#e8f4f8"/><rect x="1185.7" y="1035.3" width="2.3" height="1.9" fill="#e8f4f8"/><rect x="1129.3" y="977.2" width="2.8" height="1.1" fill="#e8f4f8"/><rect x="1188.0" y="1044.0" width="2.9" height="1.5" fill="#e8f4f8"/><rect x="1192.6" y="1052.8" width="1.5" height="1.1" fill="#e8f4f8"/><rect x="1186.8" y="1049.4" width="2.0" height="1.7" fill="#e8f4f8"/><rect x="1186.3" y="1040.2" width="2.2" height="1.5" fill="#e8f4f8"/><rect x="1161.2" y="1015.6" width="2.1" height="1.6" fill="#e8f4f8"/><rect x="1207.7" y="1060.0" width="2.6" height="2.1" fill="#e8f4f8"/><rect x="1160.1" y="1009.1" width="3.1" height="1.4" fill="#e8f4f8"/><rect x="1146.2" y="995.6" width="2.9" height="1.2" fill="#e8f4f8"/><rect x="1159.8" y="1010.4" width="3.2" height="1.7" fill="#e8f4f8"/><rect x="1214.4" y="1069.1" width="2.2" height="2.0" fill="#e8f4f8"/>
<rect x="1072" y="1206" width="5" height="5" fill="#a02a1c"/>
<line x1="720" y1="751.5" x2="1370" y2="751.5" stroke="#fff" stroke-opacity="0.35" stroke-width="1"/>
</g>
<polygon points="738.3,692.0 738.3,682.0 742.3,676.0 751.9,670.4 968.0,581.3 980.0,579.6 991.0,583.0 998.0,592.0 1002.0,613.0 1024.0,693.0 1045.0,767.0 1066.0,842.0 1092.0,892.0 1120.0,938.0 1142.0,982.0 1168.0,1013.0 1200.0,1049.0 1232.0,1084.0 1264.0,1118.0 1292.0,1151.0 1300.0,1162.6 1303.0,1174.0 1313.0,1264.0 1317.0,1366.0 1314.5,1375.0 1246.4,1453.3 1238.8,1458.4 1218.6,1459.6 1175.7,1445.7 1163.0,1433.0 1158.0,1420.5 1140.4,1342.3 1125.2,1299.4 1115.0,1286.7 1098.0,1261.0 1065.0,1205.0 1025.0,1158.0 1000.4,1127.1 981.4,1109.8 955.5,1087.3 931.3,1071.8 903.7,1045.9 872.6,1001.0 844.9,957.8 820.7,914.6 806.1,883.3 783.8,843.4 767.9,819.5 751.9,795.6 746.3,786.0 745.5,763.7 743.1,739.8" fill="none" stroke="#55575a" stroke-width="1.2"/>
<rect x="1212" y="530" width="160" height="437" fill="#fff"/>
<line x1="1209.4" y1="528" x2="1209.4" y2="972" stroke="#000" stroke-width="4.8"/>
<line x1="1207" y1="969.5" x2="1376" y2="969.5" stroke="#000" stroke-width="4.8"/>
<text x="1220.5" y="563.5" font-size="29" font-weight="bold" text-anchor="start" fill="#111" textLength="121" lengthAdjust="spacingAndGlyphs">LEGEND</text>
<text x="1220.5" y="605.5" font-size="24.9" font-weight="normal" text-anchor="start" fill="#111" >Elevation [m]</text>
<rect x="1219.8" y="629.0" width="32" height="15.3" fill="#2787c6" stroke="#888" stroke-width="0.8"/>
<text x="1257" y="645.5" font-size="25" font-weight="normal" text-anchor="start" fill="#111" >-0.5 - 0</text>
<rect x="1219.8" y="663.0" width="32" height="15.3" fill="#5b9fbd" stroke="#888" stroke-width="0.8"/>
<text x="1257" y="679.5" font-size="25" font-weight="normal" text-anchor="start" fill="#111" >0 - 0.5</text>
<rect x="1219.8" y="697.0" width="32" height="15.3" fill="#88bd9f" stroke="#888" stroke-width="0.8"/>
<text x="1257" y="713.5" font-size="25" font-weight="normal" text-anchor="start" fill="#111" >0.5 - 1</text>
<rect x="1219.8" y="731.0" width="32" height="15.3" fill="#b3cf8b" stroke="#888" stroke-width="0.8"/>
<text x="1257" y="747.5" font-size="25" font-weight="normal" text-anchor="start" fill="#111" >1 - 1.5</text>
<rect x="1219.8" y="765.0" width="32" height="15.3" fill="#dfe77f" stroke="#888" stroke-width="0.8"/>
<text x="1257" y="781.5" font-size="25" font-weight="normal" text-anchor="start" fill="#111" >1.5 - 2</text>
<rect x="1219.8" y="799.0" width="32" height="15.3" fill="#fbe35a" stroke="#888" stroke-width="0.8"/>
<text x="1257" y="815.5" font-size="25" font-weight="normal" text-anchor="start" fill="#111" >2 - 2.5</text>
<rect x="1219.8" y="833.0" width="32" height="15.3" fill="#fbb145" stroke="#888" stroke-width="0.8"/>
<text x="1257" y="849.5" font-size="25" font-weight="normal" text-anchor="start" fill="#111" >2.5 - 3</text>
<rect x="1219.8" y="867.0" width="32" height="15.3" fill="#f68b3b" stroke="#888" stroke-width="0.8"/>
<text x="1257" y="883.5" font-size="25" font-weight="normal" text-anchor="start" fill="#111" >3 - 3.5</text>
<rect x="1219.8" y="901.0" width="32" height="15.3" fill="#e96131" stroke="#888" stroke-width="0.8"/>
<text x="1257" y="917.5" font-size="25" font-weight="normal" text-anchor="start" fill="#111" >3.5 - 4</text>
<rect x="1219.8" y="935.0" width="32" height="15.3" fill="#d9191f" stroke="#888" stroke-width="0.8"/>
<text x="1257" y="951.5" font-size="25" font-weight="normal" text-anchor="start" fill="#111" >4 - 4.5</text>
<rect x="717.2" y="1436.3" width="204.0" height="11.0" fill="#000"/>
<rect x="768.6" y="1437.5" width="50.0" height="8.6" fill="#fff"/>
<text x="717.7" y="1426" font-size="22" font-weight="normal" text-anchor="middle" fill="#111" >0</text>
<text x="768.2" y="1426" font-size="22" font-weight="normal" text-anchor="middle" fill="#111" >25</text>
<text x="818.7" y="1426" font-size="22" font-weight="normal" text-anchor="middle" fill="#111" >50</text>
<text x="920.7" y="1426" font-size="22" font-weight="normal" text-anchor="middle" fill="#111" >100</text>
<text x="819.0" y="1472" font-size="22" font-weight="normal" text-anchor="middle" fill="#111" >Meters</text>
<text x="826.1" y="1279" font-size="40.5" font-weight="normal" text-anchor="middle" fill="#111" transform-origin="0 0">N</text>
<path d="M825.4 1288 L798 1381.6 L825 1348 Z" fill="#000" stroke="#000" stroke-width="1.5" stroke-linejoin="miter"/>
<path d="M825.4 1288 L853.3 1381.6 L825 1348 Z" fill="#fff" stroke="#000" stroke-width="3" stroke-linejoin="miter"/>
<text x="704.6" y="571" font-size="43.5" font-weight="normal" text-anchor="start" fill="#111" >(d)</text>
<rect x="17.8" y="17.4" width="1356.8" height="1471.8" fill="none" stroke="#000" stroke-width="4.6"/>
<line x1="695.8" y1="17" x2="695.8" y2="1489" stroke="#000" stroke-width="4.6"/>
<line x1="17" y1="527.6" x2="1375" y2="527.6" stroke="#000" stroke-width="4.6"/>
</svg>
</body></html>
